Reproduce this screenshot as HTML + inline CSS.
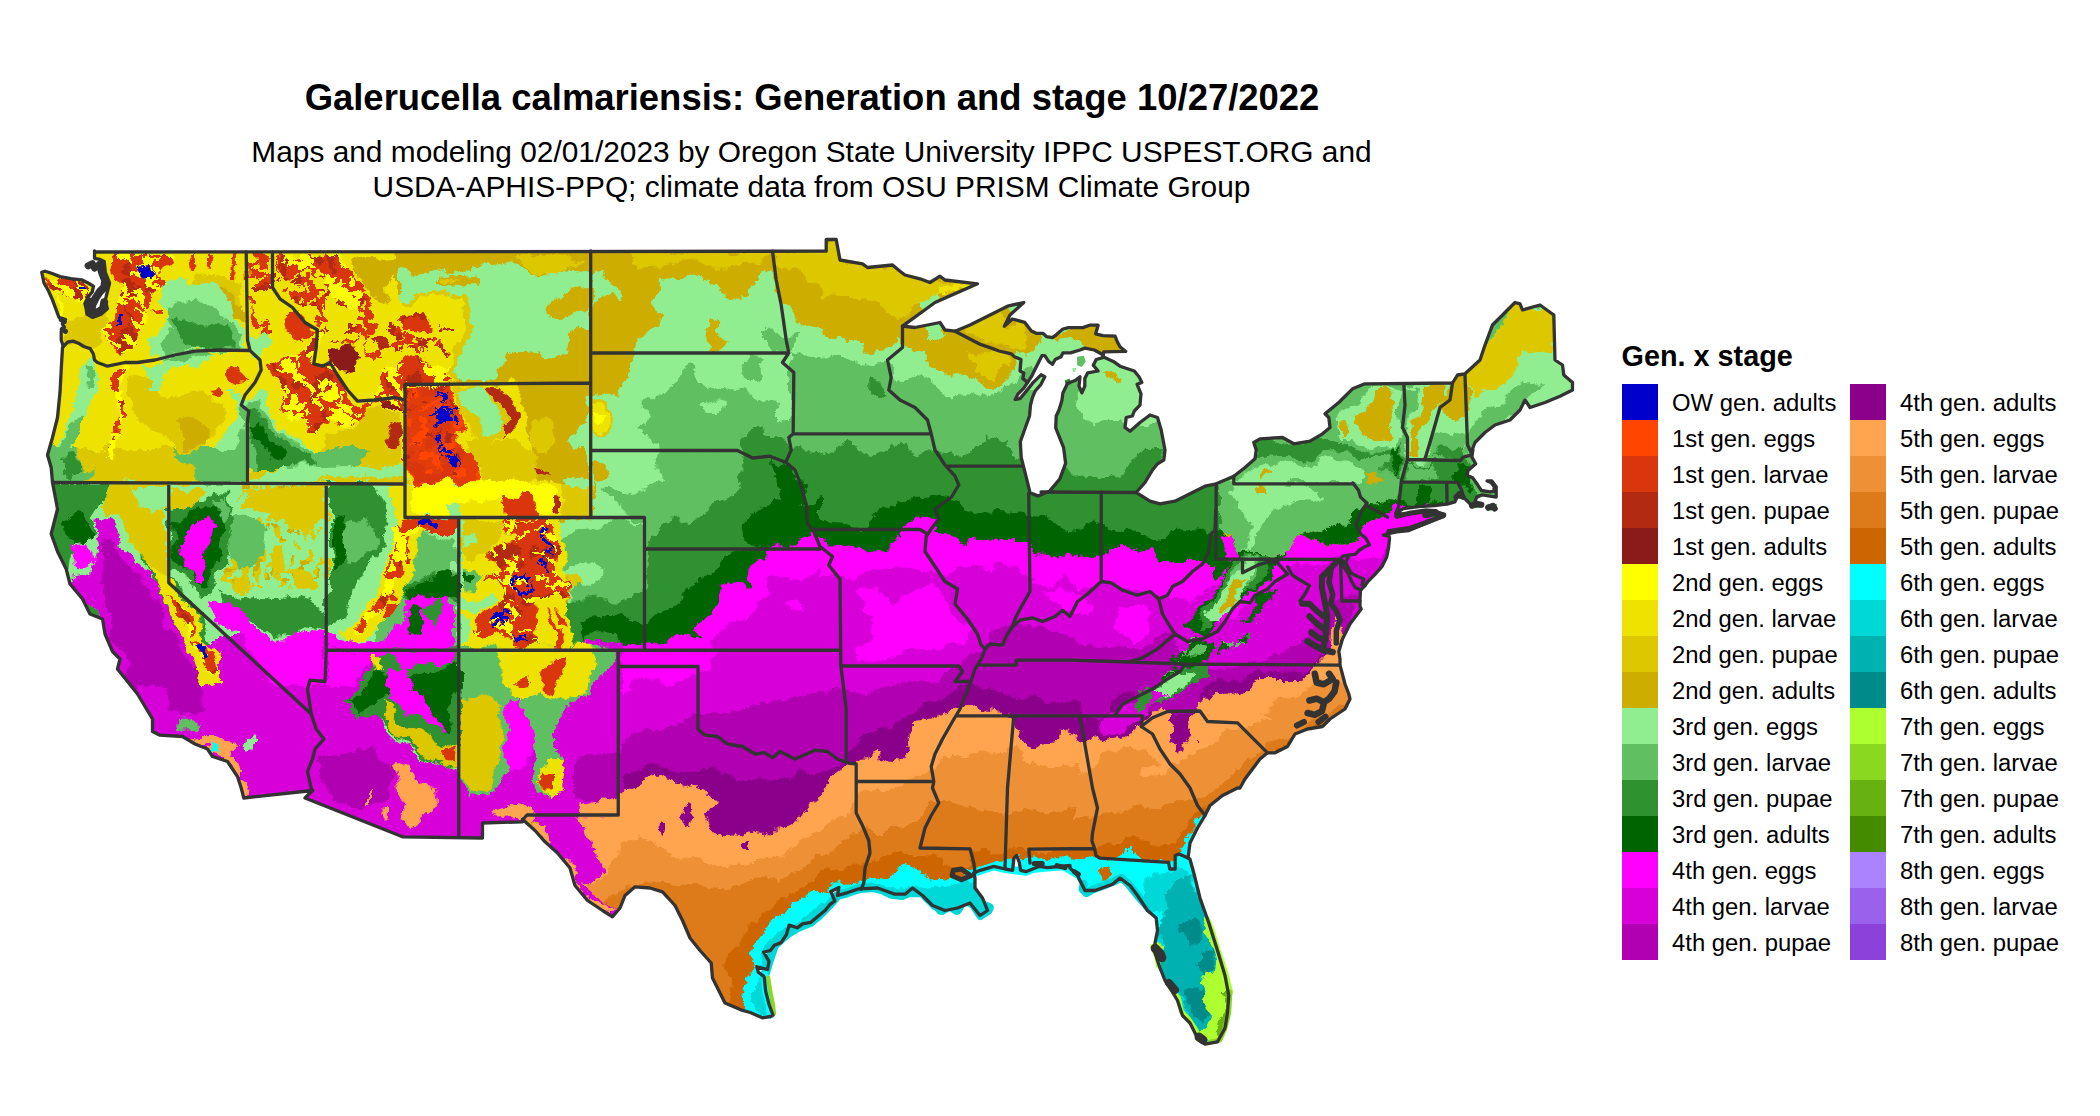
<!DOCTYPE html>
<html><head><meta charset="utf-8"><title>Galerucella calmariensis: Generation and stage</title>
<style>
html,body{margin:0;padding:0;background:#fff;}
body{width:2100px;height:1116px;position:relative;overflow:hidden;font-family:"Liberation Sans",sans-serif;color:#000;}
#title{position:absolute;left:0;width:1624px;top:77px;text-align:center;font-weight:bold;font-size:36.45px;line-height:42px;white-space:nowrap;}
#sub{position:absolute;left:0;width:1623px;top:134px;text-align:center;font-size:29.87px;line-height:35px;white-space:nowrap;}
#legt{position:absolute;left:1621.5px;top:339.5px;font-weight:bold;font-size:28.8px;line-height:32px;white-space:nowrap;}
.col{position:absolute;top:384px;}
.row{height:36px;display:flex;align-items:center;white-space:nowrap;font-size:23.85px;}
.lb{position:relative;top:1px;}
.sw{width:36px;height:36px;display:inline-block;margin-right:14px;flex:none;}
#map{position:absolute;left:0;top:0;}
</style></head><body>
<div id="title">Galerucella calmariensis: Generation and stage 10/27/2022</div>
<div id="sub">Maps and modeling 02/01/2023 by Oregon State University IPPC USPEST.ORG and<br>USDA-APHIS-PPQ; climate data from OSU PRISM Climate Group</div>
<div id="legt">Gen. x stage</div>

<div class="col" style="left:1622px">
<div class="row"><span class="sw" style="background:#0000CD"></span><span class="lb">OW gen. adults</span></div>
<div class="row"><span class="sw" style="background:#FF4500"></span><span class="lb">1st gen. eggs</span></div>
<div class="row"><span class="sw" style="background:#D9360E"></span><span class="lb">1st gen. larvae</span></div>
<div class="row"><span class="sw" style="background:#B22A12"></span><span class="lb">1st gen. pupae</span></div>
<div class="row"><span class="sw" style="background:#8B1A1A"></span><span class="lb">1st gen. adults</span></div>
<div class="row"><span class="sw" style="background:#FFFF00"></span><span class="lb">2nd gen. eggs</span></div>
<div class="row"><span class="sw" style="background:#EEE300"></span><span class="lb">2nd gen. larvae</span></div>
<div class="row"><span class="sw" style="background:#DDC800"></span><span class="lb">2nd gen. pupae</span></div>
<div class="row"><span class="sw" style="background:#CDAD00"></span><span class="lb">2nd gen. adults</span></div>
<div class="row"><span class="sw" style="background:#90EE90"></span><span class="lb">3rd gen. eggs</span></div>
<div class="row"><span class="sw" style="background:#60BF60"></span><span class="lb">3rd gen. larvae</span></div>
<div class="row"><span class="sw" style="background:#309130"></span><span class="lb">3rd gen. pupae</span></div>
<div class="row"><span class="sw" style="background:#006400"></span><span class="lb">3rd gen. adults</span></div>
<div class="row"><span class="sw" style="background:#FF00FF"></span><span class="lb">4th gen. eggs</span></div>
<div class="row"><span class="sw" style="background:#D800D8"></span><span class="lb">4th gen. larvae</span></div>
<div class="row"><span class="sw" style="background:#B100B1"></span><span class="lb">4th gen. pupae</span></div>
</div>
<div class="col" style="left:1850px">
<div class="row"><span class="sw" style="background:#8B008B"></span><span class="lb">4th gen. adults</span></div>
<div class="row"><span class="sw" style="background:#FFA54F"></span><span class="lb">5th gen. eggs</span></div>
<div class="row"><span class="sw" style="background:#EE9035"></span><span class="lb">5th gen. larvae</span></div>
<div class="row"><span class="sw" style="background:#DD7B1A"></span><span class="lb">5th gen. pupae</span></div>
<div class="row"><span class="sw" style="background:#CD6600"></span><span class="lb">5th gen. adults</span></div>
<div class="row"><span class="sw" style="background:#00FFFF"></span><span class="lb">6th gen. eggs</span></div>
<div class="row"><span class="sw" style="background:#00D8D8"></span><span class="lb">6th gen. larvae</span></div>
<div class="row"><span class="sw" style="background:#00B1B1"></span><span class="lb">6th gen. pupae</span></div>
<div class="row"><span class="sw" style="background:#008B8B"></span><span class="lb">6th gen. adults</span></div>
<div class="row"><span class="sw" style="background:#ADFF2F"></span><span class="lb">7th gen. eggs</span></div>
<div class="row"><span class="sw" style="background:#8AD81F"></span><span class="lb">7th gen. larvae</span></div>
<div class="row"><span class="sw" style="background:#67B110"></span><span class="lb">7th gen. pupae</span></div>
<div class="row"><span class="sw" style="background:#458B00"></span><span class="lb">7th gen. adults</span></div>
<div class="row"><span class="sw" style="background:#AB82FF"></span><span class="lb">8th gen. eggs</span></div>
<div class="row"><span class="sw" style="background:#9A62EC"></span><span class="lb">8th gen. larvae</span></div>
<div class="row"><span class="sw" style="background:#8A42DA"></span><span class="lb">8th gen. pupae</span></div>
</div>
<svg id="map" width="2100" height="1116" viewBox="0 0 2100 1116">
<defs><clipPath id="us"><path d="M95 252 L826.2 251.2 L826.2 239.5 L836.2 239.5 L840 260 L862.5 263.8 L867.5 267.5 L892.5 265 L900 271.2 L905 275 L920 278.8 L930 282.5 L940 276.2 L945 280 L977.5 283.8 L935 302.5 L902.5 326.2 L915 327.5 L940 322.5 L945 330 L955 331.2 L970 325 L990 315 L1007.5 306.2 L1023.8 302.5 L1010 315 L1004.3 326.2 L1012.4 319 L1024.8 322.4 L1031.4 331 L1036.2 333.3 L1042.9 333.3 L1046.7 336.7 L1052.4 337.6 L1056.2 334.8 L1062.9 329 L1068.6 327.6 L1082.9 327.6 L1089.5 325.2 L1098.1 325.2 L1095.7 333.8 L1102.9 335.7 L1115.2 336.2 L1117.1 341.4 L1120 346.7 L1125.7 351.4 L1103.8 351.9 L1102.9 356.7 L1113.3 361.4 L1120 366.2 L1134.3 371 L1139 376.7 L1141.9 382.4 L1137.1 384.3 L1141 393.8 L1140 405.2 L1134.3 411 L1132.4 416 L1126.2 417.5 L1125 427.5 L1130 431.2 L1140 422.5 L1150 415 L1157.5 417.5 L1161.2 430 L1165 450 L1163.8 460 L1157.5 463.8 L1152.5 470 L1145 482.5 L1136.2 492.5 L1150 501.2 L1160 503.8 L1175 501.2 L1192.5 492.5 L1205 486.2 L1216.2 483.8 L1233.8 476.2 L1245 467.5 L1255 458.8 L1256.2 450 L1253.8 442.5 L1260 438.8 L1282.5 437.5 L1293.8 443.8 L1310 441.2 L1322.5 433.8 L1330 427.5 L1328.8 417.5 L1325 413.8 L1338.8 402.5 L1352.5 388.8 L1365 383.8 L1452.5 383 L1457.5 375 L1465 373.8 L1480 360 L1485 345 L1492.5 325 L1515 302.5 L1520 303.8 L1522.5 310 L1540 305 L1553.8 315 L1555 360 L1562.5 365 L1563.8 375 L1572.5 382.5 L1572.5 390 L1560 396.2 L1545 402.5 L1530 407.5 L1525 400 L1520 410 L1510 420 L1495 425 L1485 432.5 L1475 442.5 L1471.2 452.5 L1472.9 449.5 L1471.9 457.1 L1475.7 463.8 L1468.1 470.5 L1467.1 475.2 L1472.9 478.1 L1477.6 484.8 L1481.4 490.5 L1490 491.9 L1493.8 491.4 L1494.3 486.7 L1491 482.4 L1487.1 481 L1491.9 481 L1496.2 486.7 L1496.2 497.1 L1482.4 494.8 L1476.7 497.1 L1474.8 501.9 L1471.9 505.7 L1465.2 499 L1457.6 496.2 L1454.8 501.9 L1448.1 503.8 L1434.8 505.7 L1418.6 506.7 L1403.3 508.6 L1395.7 513.3 L1406.2 514.3 L1425.2 510.5 L1435.7 511 L1444.3 515.2 L1425.2 523.8 L1409 530.5 L1396.7 531.9 L1387.1 533.8 L1383.3 535.2 L1389 536.2 L1389.5 538.1 L1388.6 547.6 L1386.7 557.1 L1381.9 566.7 L1374.3 575.2 L1367.6 581.9 L1364.8 585.7 L1360.5 590.5 L1360 599 L1360 606 L1361.2 609 L1350 624 L1342.5 639 L1338.8 651.5 L1340 659 L1340 665.2 L1345 684 L1348.8 694 L1350 699 L1345 709 L1330 719 L1322.5 726.5 L1307.5 729 L1295 734 L1287.5 746.5 L1275 752.8 L1267.5 752.8 L1260 759 L1252.5 769 L1245 779 L1240 788 L1237.5 788 L1222.5 795.5 L1210 805.5 L1205 815.5 L1197.5 828 L1190 843 L1188 858 L1190 859.2 L1193.8 873 L1200 898 L1208.8 923 L1217.5 950.5 L1225 975.5 L1228.8 995.5 L1227.5 1013 L1225 1028 L1217.5 1041.8 L1205 1044.2 L1197.5 1038 L1190 1023 L1182.5 1015.5 L1177.5 1000.5 L1170 988 L1165 980.5 L1160 968 L1155 953 L1155 943 L1157.5 930.5 L1156.2 918 L1147.5 910.5 L1137.5 895.5 L1130 885.5 L1120 878 L1112.5 884.2 L1095 890.5 L1085 890.5 L1077.5 875.5 L1070 868 L1070 865.5 L1047.5 867.6 L1039.5 866.3 L1032.7 869 L1026 871.7 L1020.6 870.3 L1019.3 862.3 L1016.6 855.5 L1013.9 858.2 L1012.6 870.3 L1005.2 869 L993.8 866.3 L980.3 870.3 L973.6 873 L975 878 L975 888 L982.5 898 L987.5 910.5 L980 915.5 L970 903 L957.5 908 L945 910.5 L932.5 905.5 L922.5 895.5 L912.5 888 L905 894.2 L895 894.2 L877.5 888 L859 888.8 L846.9 892.8 L837.5 895.5 L838.9 887.5 L830.8 891.5 L834.8 900.9 L829.5 904.9 L825.4 910.3 L818.7 915.7 L810.6 922.4 L802.6 923.8 L797.2 927.8 L789.1 925.1 L786.5 934.5 L781.1 942.6 L774.4 945.3 L770.3 950.6 L763.6 952 L769 961.4 L767.6 969.5 L756.9 966.8 L758.2 972.2 L763.6 976.2 L764.3 977.5 L765.6 991 L769 1004.4 L773 1015.2 L770.3 1016.5 L762.3 1017.8 L750.2 1012.5 L740.8 1009.8 L725 1003 L720 993 L712.5 978 L711.2 963 L700 950.5 L690 938 L682.5 920.5 L675 905.5 L662.5 891.8 L650 888 L635 886.8 L625 895.5 L620 908 L612.5 916.8 L602.5 910.5 L587.5 900.5 L575 885.5 L570 868 L557.5 853 L545 841.8 L535 830.5 L522.5 819.2 L522.5 821.8 L482.5 823 L482.5 838 L402.5 836.8 L305 798 L312.5 790.5 L243.8 798 L241.2 788 L237.5 776.5 L227.5 761.5 L212.5 756.5 L207.5 749 L195 744 L182.5 736.5 L160 735.2 L152.5 731.5 L152.5 719 L145 706.5 L137.5 694 L127.5 681.5 L117.5 669 L120 659 L112.5 651.5 L105 634 L102.5 619 L90 614 L82.5 599 L70 584 L66.2 569 L57.5 551.5 L51.2 534 L57.5 509 L52.5 482.5 L51.2 467.5 L47.5 455 L52.5 437.5 L57.5 417.5 L60 392.5 L61.2 370 L62.5 347.5 L63.3 346.5 L61.2 340 L61.2 331.4 L64.4 327.1 L62.3 323.9 L65.5 319.6 L59 317.4 L55.8 308.8 L52.6 300.2 L48.3 290.5 L44 283 L41.8 272.3 L45.1 271.2 L51.5 273.3 L60.1 276.6 L70.9 278.7 L81.6 279.8 L88.1 283 L93.4 286.2 L92.4 291.6 L88.1 297 L84.8 303.4 L85.9 307.7 L87 314.2 L92.4 317.4 L101 314.2 L107.4 308.8 L105.3 300.2 L107.4 291.6 L109.6 283 L105.3 272.3 L104.2 261.5 L99.9 259.4 L94.5 258.3 L94.5 250.8Z M1470 502.9 L1482.4 501.9 L1483.3 507.6 L1471 508.6Z M1486.2 504.8 L1496.7 503.8 L1496.7 510.5 L1487.1 510.5Z"/></clipPath><pattern id="R80" patternUnits="userSpaceOnUse" width="48" height="48">
<rect width="48" height="48" fill="#FFFF00"/>
<path fill="#D9360E" d="M6 0h2v2h-2zM10 0h4v2h-4zM16 0h8v2h-8zM4 2h18v2h-18zM4 4h10v2h-10zM18 4h4v2h-4zM36 4h2v2h-2zM4 6h10v2h-10zM34 6h8v2h-8zM4 8h14v2h-14zM38 8h6v2h-6zM4 10h14v2h-14zM38 10h6v2h-6zM6 12h10v2h-10zM38 12h6v2h-6zM38 14h4v2h-4zM6 38h4v2h-4zM6 40h8v2h-8zM6 42h12v2h-12zM20 42h4v2h-4zM6 44h6v2h-6zM14 44h12v2h-12zM6 46h2v2h-2zM16 46h10v2h-10z"/>
<path fill="#D9360E" d="M0 0h6v2h-6zM24 0h6v2h-6zM34 0h14v2h-14zM0 2h4v2h-4zM22 2h2v2h-2zM28 2h16v2h-16zM2 4h2v2h-2zM32 4h4v2h-4zM0 6h4v2h-4zM46 6h2v2h-2zM0 8h4v2h-4zM44 8h4v2h-4zM0 10h4v2h-4zM18 10h10v2h-10zM44 10h4v2h-4zM0 12h6v2h-6zM16 12h20v2h-20zM44 12h4v2h-4zM4 14h18v2h-18zM24 14h14v2h-14zM42 14h6v2h-6zM8 16h8v2h-8zM34 16h12v2h-12zM36 18h10v2h-10zM36 20h10v2h-10zM36 22h10v2h-10zM34 24h12v2h-12zM8 26h4v2h-4zM24 26h6v2h-6zM34 26h14v2h-14zM4 28h8v2h-8zM22 28h10v2h-10zM34 28h14v2h-14zM0 30h12v2h-12zM26 30h12v2h-12zM40 30h8v2h-8zM0 32h12v2h-12zM28 32h20v2h-20zM0 34h12v2h-12zM22 34h4v2h-4zM40 34h8v2h-8zM0 36h14v2h-14zM20 36h8v2h-8zM44 36h4v2h-4zM0 38h6v2h-6zM10 38h18v2h-18zM42 38h6v2h-6zM0 40h6v2h-6zM14 40h8v2h-8zM38 40h10v2h-10zM0 42h6v2h-6zM18 42h2v2h-2zM34 42h2v2h-2zM38 42h10v2h-10zM0 44h6v2h-6zM26 44h2v2h-2zM34 44h14v2h-14zM0 46h6v2h-6zM26 46h4v2h-4zM34 46h14v2h-14z"/>
<path fill="#B22A12" d="M0 14h4v2h-4zM0 16h8v2h-8zM16 16h4v2h-4zM24 16h10v2h-10zM46 16h2v2h-2zM0 18h2v2h-2zM6 18h16v2h-16zM24 18h12v2h-12zM46 18h2v2h-2zM0 20h4v2h-4zM14 20h22v2h-22zM46 20h2v2h-2zM0 22h6v2h-6zM16 22h20v2h-20zM46 22h2v2h-2zM0 24h14v2h-14zM16 24h12v2h-12zM46 24h2v2h-2zM0 26h8v2h-8zM12 26h12v2h-12zM0 28h4v2h-4zM12 28h10v2h-10zM12 30h8v2h-8zM12 32h8v2h-8zM12 34h10v2h-10zM34 34h6v2h-6zM14 36h6v2h-6zM34 36h10v2h-10zM36 38h6v2h-6z"/>
</pattern>
<pattern id="R65" patternUnits="userSpaceOnUse" width="48" height="48">
<rect width="48" height="48" fill="#FFFF00"/>
<path fill="#D9360E" d="M10 8h6v2h-6zM8 10h8v2h-8zM8 12h8v2h-8zM8 14h10v2h-10zM42 14h2v2h-2zM46 14h2v2h-2zM0 16h2v2h-2zM8 16h10v2h-10zM38 16h8v2h-8zM38 18h8v2h-8zM14 20h4v2h-4zM38 20h10v2h-10zM0 22h2v2h-2zM40 22h8v2h-8zM4 24h2v2h-2zM24 24h4v2h-4zM40 24h2v2h-2zM22 26h6v2h-6zM42 26h2v2h-2zM24 28h4v2h-4zM42 28h2v2h-2zM24 30h4v2h-4zM42 30h4v2h-4zM12 32h2v2h-2zM10 34h6v2h-6zM14 36h4v2h-4zM16 38h2v2h-2zM10 40h10v2h-10zM12 42h6v2h-6zM16 44h2v2h-2z"/>
<path fill="#D9360E" d="M0 0h2v2h-2zM16 0h8v2h-8zM44 0h4v2h-4zM0 2h2v2h-2zM18 2h4v2h-4zM44 2h4v2h-4zM0 4h4v2h-4zM8 4h4v2h-4zM46 4h2v2h-2zM0 6h14v2h-14zM46 6h2v2h-2zM0 8h10v2h-10zM0 10h8v2h-8zM16 10h2v2h-2zM34 10h8v2h-8zM0 12h4v2h-4zM16 12h4v2h-4zM0 14h4v2h-4zM18 14h2v2h-2zM32 14h4v2h-4zM2 16h2v2h-2zM18 16h2v2h-2zM32 16h6v2h-6zM18 18h6v2h-6zM34 18h4v2h-4zM18 20h12v2h-12zM36 20h2v2h-2zM14 22h20v2h-20zM36 22h4v2h-4zM6 24h4v2h-4zM14 24h10v2h-10zM28 24h6v2h-6zM36 24h4v2h-4zM6 26h16v2h-16zM28 26h6v2h-6zM38 26h4v2h-4zM12 28h2v2h-2zM18 28h6v2h-6zM28 28h6v2h-6zM38 28h4v2h-4zM12 30h2v2h-2zM18 30h6v2h-6zM28 30h6v2h-6zM40 30h2v2h-2zM14 32h20v2h-20zM16 34h20v2h-20zM38 34h2v2h-2zM18 36h26v2h-26zM0 38h4v2h-4zM18 38h16v2h-16zM38 38h10v2h-10zM0 40h4v2h-4zM20 40h8v2h-8zM40 40h8v2h-8zM0 42h2v2h-2zM10 42h2v2h-2zM20 42h6v2h-6zM42 42h6v2h-6zM0 44h2v2h-2zM12 44h4v2h-4zM18 44h8v2h-8zM42 44h6v2h-6zM0 46h2v2h-2zM14 46h10v2h-10zM42 46h6v2h-6z"/>
<path fill="#B22A12" d="M2 0h8v2h-8zM24 0h4v2h-4zM34 0h10v2h-10zM2 2h10v2h-10zM22 2h4v2h-4zM34 2h4v2h-4zM4 4h4v2h-4zM20 4h6v2h-6zM22 6h6v2h-6zM36 6h2v2h-2zM22 8h8v2h-8zM34 8h8v2h-8zM22 10h8v2h-8zM22 12h8v2h-8zM20 14h4v2h-4zM20 16h2v2h-2zM34 24h2v2h-2zM34 26h4v2h-4zM34 28h4v2h-4zM34 30h6v2h-6zM34 32h4v2h-4zM36 34h2v2h-2zM34 38h4v2h-4zM28 40h12v2h-12zM2 42h2v2h-2zM26 42h16v2h-16zM2 44h2v2h-2zM26 44h2v2h-2zM30 44h12v2h-12zM2 46h6v2h-6zM24 46h4v2h-4zM32 46h10v2h-10z"/>
</pattern>
<pattern id="R50" patternUnits="userSpaceOnUse" width="48" height="48">
<rect width="48" height="48" fill="#FFFF00"/>
<path fill="#D9360E" d="M8 14h2v2h-2zM10 16h2v2h-2zM10 18h4v2h-4zM4 26h6v2h-6zM4 28h6v2h-6zM26 28h12v2h-12zM2 30h8v2h-8zM28 30h10v2h-10zM2 32h6v2h-6zM30 32h10v2h-10zM4 34h6v2h-6zM36 34h4v2h-4zM4 36h6v2h-6zM22 36h4v2h-4zM36 36h4v2h-4zM22 38h8v2h-8zM38 38h2v2h-2zM22 40h4v2h-4zM22 42h4v2h-4zM22 44h4v2h-4zM24 46h4v2h-4z"/>
<path fill="#D9360E" d="M10 0h18v2h-18zM40 0h4v2h-4zM14 2h12v2h-12zM38 6h2v2h-2zM16 8h2v2h-2zM32 8h4v2h-4zM16 10h4v2h-4zM32 10h4v2h-4zM32 12h6v2h-6zM34 14h6v2h-6zM6 16h4v2h-4zM22 16h2v2h-2zM34 16h6v2h-6zM22 18h2v2h-2zM36 18h4v2h-4zM2 20h2v2h-2zM36 20h4v2h-4zM0 22h4v2h-4zM34 22h6v2h-6zM0 24h10v2h-10zM24 24h16v2h-16zM0 26h4v2h-4zM24 26h16v2h-16zM46 26h2v2h-2zM0 28h4v2h-4zM38 28h4v2h-4zM46 28h2v2h-2zM0 30h2v2h-2zM10 30h6v2h-6zM20 30h2v2h-2zM38 30h4v2h-4zM46 30h2v2h-2zM0 32h2v2h-2zM10 32h6v2h-6zM20 32h2v2h-2zM40 32h4v2h-4zM46 32h2v2h-2zM0 34h4v2h-4zM12 34h4v2h-4zM20 34h4v2h-4zM40 34h4v2h-4zM46 34h2v2h-2zM0 36h4v2h-4zM14 36h2v2h-2zM18 36h4v2h-4zM40 36h8v2h-8zM0 38h10v2h-10zM14 38h8v2h-8zM42 38h6v2h-6zM0 40h8v2h-8zM14 40h8v2h-8zM46 40h2v2h-2zM0 42h2v2h-2zM8 42h2v2h-2zM12 42h10v2h-10zM6 44h16v2h-16zM8 46h16v2h-16zM40 46h6v2h-6z"/>
<path fill="#B22A12" d="M40 6h2v2h-2zM30 8h2v2h-2zM40 8h6v2h-6zM28 10h4v2h-4zM42 10h6v2h-6zM28 12h4v2h-4zM44 12h2v2h-2zM28 14h6v2h-6zM26 16h8v2h-8zM40 16h4v2h-4zM0 18h4v2h-4zM24 18h12v2h-12zM40 18h4v2h-4zM0 20h2v2h-2zM24 20h12v2h-12zM40 20h8v2h-8zM24 22h10v2h-10zM40 22h8v2h-8zM40 24h8v2h-8zM40 26h6v2h-6zM42 28h4v2h-4zM16 30h4v2h-4zM42 30h4v2h-4zM16 32h4v2h-4zM44 32h2v2h-2zM16 34h4v2h-4zM44 34h2v2h-2zM16 36h2v2h-2z"/>
</pattern>
<pattern id="R35" patternUnits="userSpaceOnUse" width="48" height="48">
<rect width="48" height="48" fill="#EEE300"/>
<path fill="#D9360E" d="M0 0h2v2h-2zM22 0h2v2h-2zM22 2h6v2h-6zM6 4h2v2h-2zM18 4h12v2h-12zM18 6h10v2h-10zM18 8h10v2h-10zM20 10h10v2h-10zM32 12h2v2h-2zM30 26h6v2h-6zM28 28h8v2h-8zM20 40h2v2h-2zM20 42h2v2h-2zM20 44h4v2h-4zM20 46h4v2h-4z"/>
<path fill="#D9360E" d="M24 0h6v2h-6zM46 0h2v2h-2zM0 2h2v2h-2zM16 2h2v2h-2zM28 2h4v2h-4zM46 2h2v2h-2zM8 4h10v2h-10zM4 6h14v2h-14zM4 8h14v2h-14zM38 8h2v2h-2zM4 10h16v2h-16zM36 10h4v2h-4zM10 12h2v2h-2zM16 12h2v2h-2zM28 12h4v2h-4zM34 12h6v2h-6zM14 14h4v2h-4zM22 14h4v2h-4zM28 14h12v2h-12zM30 16h10v2h-10zM32 18h4v2h-4zM38 18h2v2h-2zM32 20h4v2h-4zM32 22h4v2h-4zM32 24h4v2h-4zM26 26h4v2h-4zM26 28h2v2h-2zM18 30h10v2h-10zM20 32h8v2h-8zM22 34h6v2h-6zM34 34h2v2h-2zM24 36h4v2h-4zM16 38h4v2h-4zM24 38h4v2h-4zM14 40h6v2h-6zM24 40h6v2h-6zM12 42h8v2h-8zM12 44h8v2h-8zM24 44h2v2h-2zM14 46h2v2h-2zM24 46h4v2h-4z"/>
<path fill="#B22A12" d="M30 0h2v2h-2zM32 2h4v2h-4zM42 2h4v2h-4zM38 4h8v2h-8zM38 6h6v2h-6zM40 8h2v2h-2zM6 12h4v2h-4zM6 14h4v2h-4zM8 16h10v2h-10zM24 16h6v2h-6zM12 18h4v2h-4zM30 18h2v2h-2zM40 18h2v2h-2zM8 32h4v2h-4zM8 34h6v2h-6zM10 36h6v2h-6zM34 36h2v2h-2zM6 38h10v2h-10zM34 38h4v2h-4zM6 40h8v2h-8zM34 40h2v2h-2zM10 42h2v2h-2z"/>
</pattern>
<pattern id="R20" patternUnits="userSpaceOnUse" width="48" height="48">
<rect width="48" height="48" fill="#EEE300"/>
<path fill="#D9360E" d="M10 12h2v2h-2zM10 14h2v2h-2zM10 26h4v2h-4zM8 28h8v2h-8zM8 30h10v2h-10zM8 32h10v2h-10zM20 32h2v2h-2zM12 34h8v2h-8z"/>
<path fill="#D9360E" d="M22 0h2v2h-2zM12 14h2v2h-2zM8 16h8v2h-8zM8 18h8v2h-8zM8 20h4v2h-4zM8 22h2v2h-2zM8 24h4v2h-4zM6 26h4v2h-4zM6 28h2v2h-2zM6 30h2v2h-2zM26 30h2v2h-2zM6 32h2v2h-2zM22 32h6v2h-6zM4 34h4v2h-4zM20 34h8v2h-8zM22 36h6v2h-6zM18 38h10v2h-10zM16 40h14v2h-14zM16 42h16v2h-16zM16 44h10v2h-10zM16 46h10v2h-10z"/>
<path fill="#B22A12" d="M12 0h10v2h-10zM24 0h2v2h-2zM12 2h14v2h-14zM16 4h8v2h-8zM6 22h2v2h-2zM6 24h2v2h-2zM4 28h2v2h-2zM2 30h4v2h-4zM46 30h2v2h-2zM2 32h4v2h-4zM28 32h2v2h-2zM28 34h2v2h-2zM32 42h4v2h-4z"/>
</pattern>
<pattern id="Y90" patternUnits="userSpaceOnUse" width="48" height="48">
<rect width="48" height="48" fill="#B22A12"/>
<path fill="#FF4500" d="M34 0h6v2h-6zM32 2h6v2h-6zM32 4h6v2h-6zM30 6h2v2h-2zM36 6h2v2h-2zM18 8h10v2h-10zM32 8h2v2h-2zM36 8h2v2h-2zM18 10h10v2h-10zM18 12h8v2h-8zM20 14h2v2h-2zM0 18h8v2h-8zM0 20h8v2h-8zM40 20h8v2h-8zM0 22h8v2h-8zM38 22h10v2h-10zM0 24h10v2h-10zM38 24h10v2h-10zM0 26h10v2h-10zM36 26h6v2h-6zM46 26h2v2h-2zM0 28h8v2h-8zM2 30h6v2h-6zM24 34h2v2h-2zM22 36h6v2h-6zM38 36h4v2h-4zM24 38h4v2h-4zM36 38h8v2h-8zM22 40h6v2h-6zM36 40h8v2h-8zM22 42h4v2h-4zM36 42h6v2h-6zM34 44h8v2h-8zM34 46h6v2h-6z"/>
<path fill="#E23C0A" d="M18 0h16v2h-16zM40 0h4v2h-4zM16 2h16v2h-16zM38 2h4v2h-4zM8 4h10v2h-10zM26 4h6v2h-6zM38 4h4v2h-4zM6 6h14v2h-14zM26 6h4v2h-4zM38 6h4v2h-4zM6 8h12v2h-12zM28 8h4v2h-4zM38 8h4v2h-4zM4 10h14v2h-14zM28 10h14v2h-14zM2 12h16v2h-16zM26 12h18v2h-18zM0 14h20v2h-20zM24 14h24v2h-24zM0 16h14v2h-14zM18 16h10v2h-10zM32 16h8v2h-8zM42 16h6v2h-6zM8 18h4v2h-4zM20 18h6v2h-6zM34 18h14v2h-14zM10 20h4v2h-4zM34 20h6v2h-6zM10 22h4v2h-4zM32 22h6v2h-6zM10 24h4v2h-4zM32 24h6v2h-6zM10 26h4v2h-4zM30 26h6v2h-6zM42 26h4v2h-4zM8 28h4v2h-4zM26 28h22v2h-22zM0 30h2v2h-2zM8 30h4v2h-4zM20 30h28v2h-28zM0 32h10v2h-10zM20 32h28v2h-28zM0 34h8v2h-8zM18 34h6v2h-6zM26 34h22v2h-22zM0 36h6v2h-6zM18 36h2v2h-2zM28 36h10v2h-10zM42 36h6v2h-6zM0 38h6v2h-6zM18 38h4v2h-4zM28 38h8v2h-8zM44 38h4v2h-4zM0 40h6v2h-6zM18 40h4v2h-4zM28 40h8v2h-8zM44 40h4v2h-4zM0 42h6v2h-6zM18 42h4v2h-4zM26 42h10v2h-10zM42 42h6v2h-6zM0 44h2v2h-2zM18 44h16v2h-16zM42 44h6v2h-6zM18 46h16v2h-16z"/>
<path fill="#D9360E" d="M2 0h6v2h-6zM12 0h6v2h-6zM44 0h4v2h-4zM0 2h4v2h-4zM10 2h6v2h-6zM42 2h6v2h-6zM0 4h4v2h-4zM42 4h6v2h-6zM0 6h6v2h-6zM42 6h6v2h-6zM0 8h6v2h-6zM42 8h6v2h-6zM0 10h4v2h-4zM42 10h6v2h-6zM0 12h2v2h-2zM44 12h4v2h-4zM28 16h4v2h-4zM26 18h8v2h-8zM20 20h14v2h-14zM14 22h4v2h-4zM22 22h2v2h-2zM28 22h4v2h-4zM14 24h8v2h-8zM28 24h4v2h-4zM14 26h12v2h-12zM28 26h2v2h-2zM12 28h14v2h-14zM12 30h8v2h-8zM10 32h10v2h-10zM8 34h10v2h-10zM6 36h12v2h-12zM6 38h12v2h-12zM6 40h12v2h-12zM6 42h12v2h-12zM2 44h16v2h-16zM2 46h16v2h-16z"/>
</pattern>
<pattern id="G50" patternUnits="userSpaceOnUse" width="48" height="48">
<rect width="48" height="48" fill="#90EE90"/>
<path fill="#DDC800" d="M14 0h2v2h-2zM36 0h2v2h-2zM22 2h4v2h-4zM32 2h4v2h-4zM22 4h4v2h-4zM30 4h4v2h-4zM24 6h2v2h-2zM30 6h2v2h-2zM28 8h2v2h-2zM14 14h2v2h-2zM44 14h2v2h-2zM10 16h8v2h-8zM28 28h4v2h-4zM32 30h6v2h-6zM30 32h12v2h-12zM28 34h16v2h-16zM32 36h14v2h-14zM36 38h10v2h-10zM36 40h4v2h-4zM42 40h4v2h-4zM36 42h2v2h-2zM12 44h2v2h-2zM12 46h4v2h-4z"/>
<path fill="#DDC800" d="M2 0h2v2h-2zM16 0h10v2h-10zM38 0h2v2h-2zM4 2h6v2h-6zM14 2h8v2h-8zM36 2h6v2h-6zM6 4h2v2h-2zM12 4h6v2h-6zM20 4h2v2h-2zM34 4h6v2h-6zM12 6h6v2h-6zM20 6h4v2h-4zM32 6h8v2h-8zM12 8h6v2h-6zM22 8h4v2h-4zM30 8h10v2h-10zM14 10h2v2h-2zM22 10h2v2h-2zM28 10h12v2h-12zM6 12h4v2h-4zM12 12h6v2h-6zM46 12h2v2h-2zM0 14h14v2h-14zM16 14h4v2h-4zM46 14h2v2h-2zM0 16h10v2h-10zM18 16h2v2h-2zM0 18h4v2h-4zM8 18h12v2h-12zM30 18h2v2h-2zM12 20h8v2h-8zM22 22h4v2h-4zM42 22h4v2h-4zM22 24h8v2h-8zM34 24h12v2h-12zM24 26h14v2h-14zM42 26h2v2h-2zM32 28h6v2h-6zM42 28h2v2h-2zM38 30h2v2h-2zM42 30h4v2h-4zM42 32h6v2h-6zM0 34h2v2h-2zM44 34h4v2h-4zM0 36h4v2h-4zM6 36h6v2h-6zM26 36h6v2h-6zM2 38h10v2h-10zM20 38h2v2h-2zM28 38h2v2h-2zM46 38h2v2h-2zM2 40h10v2h-10zM46 40h2v2h-2zM2 42h6v2h-6zM12 42h2v2h-2zM18 42h2v2h-2zM14 44h8v2h-8zM16 46h10v2h-10z"/>
<path fill="#CDAD00" d="M0 0h2v2h-2zM2 2h2v2h-2zM4 4h2v2h-2zM40 4h4v2h-4zM0 6h2v2h-2zM4 6h4v2h-4zM40 6h8v2h-8zM0 8h8v2h-8zM40 8h8v2h-8zM0 10h8v2h-8zM44 10h4v2h-4zM4 12h2v2h-2zM26 18h4v2h-4zM24 20h8v2h-8zM26 22h8v2h-8zM30 24h4v2h-4zM46 24h2v2h-2zM0 26h2v2h-2zM44 26h4v2h-4zM0 28h6v2h-6zM44 28h4v2h-4zM0 30h6v2h-6zM46 30h2v2h-2zM0 32h6v2h-6zM2 34h6v2h-6zM4 36h2v2h-2zM22 38h2v2h-2zM26 38h2v2h-2zM18 40h12v2h-12zM20 42h6v2h-6zM22 44h4v2h-4z"/>
</pattern>
<pattern id="G30" patternUnits="userSpaceOnUse" width="48" height="48">
<rect width="48" height="48" fill="#90EE90"/>
<path fill="#DDC800" d="M20 0h2v2h-2zM36 4h4v2h-4zM38 6h2v2h-2zM2 14h2v2h-2zM2 16h4v2h-4zM4 18h4v2h-4zM20 22h2v2h-2zM38 28h4v2h-4zM34 30h6v2h-6zM30 32h10v2h-10zM32 34h8v2h-8zM2 40h2v2h-2zM0 42h6v2h-6zM0 44h6v2h-6zM20 44h2v2h-2zM46 44h2v2h-2zM18 46h4v2h-4z"/>
<path fill="#DDC800" d="M10 0h4v2h-4zM34 0h6v2h-6zM8 2h8v2h-8zM34 2h6v2h-6zM8 4h2v2h-2zM16 4h4v2h-4zM16 6h6v2h-6zM40 6h2v2h-2zM40 8h2v2h-2zM40 10h4v2h-4zM40 12h6v2h-6zM40 14h4v2h-4zM4 20h4v2h-4zM6 22h2v2h-2zM20 24h4v2h-4zM40 24h2v2h-2zM20 26h4v2h-4zM40 26h2v2h-2zM18 28h6v2h-6zM6 30h2v2h-2zM18 30h6v2h-6zM4 32h4v2h-4zM16 32h2v2h-2zM22 32h2v2h-2zM28 32h2v2h-2zM40 32h2v2h-2zM4 34h4v2h-4zM28 34h4v2h-4zM40 34h4v2h-4zM28 36h16v2h-16zM26 38h2v2h-2zM34 38h10v2h-10zM18 40h2v2h-2zM26 40h2v2h-2zM38 40h6v2h-6zM16 42h4v2h-4zM26 42h2v2h-2zM38 42h2v2h-2zM6 44h4v2h-4zM14 44h6v2h-6zM26 44h2v2h-2zM38 44h2v2h-2zM0 46h8v2h-8zM16 46h2v2h-2zM26 46h2v2h-2zM36 46h4v2h-4zM46 46h2v2h-2z"/>
<path fill="#CDAD00" d="M0 0h8v2h-8zM26 0h4v2h-4zM4 2h4v2h-4zM6 4h2v2h-2zM42 6h2v2h-2zM18 8h2v2h-2zM42 8h4v2h-4zM44 10h2v2h-2zM2 28h4v2h-4zM2 30h4v2h-4zM2 32h2v2h-2zM18 32h4v2h-4zM16 34h6v2h-6zM16 36h4v2h-4zM16 38h4v2h-4zM14 40h4v2h-4zM32 40h6v2h-6zM14 42h2v2h-2zM28 42h2v2h-2zM32 42h6v2h-6zM28 44h2v2h-2zM32 44h6v2h-6zM28 46h2v2h-2zM34 46h2v2h-2z"/>
</pattern>
<pattern id="M50" patternUnits="userSpaceOnUse" width="48" height="48">
<path fill="#309130" d="M26 0h8v2h-8zM26 2h8v2h-8zM26 4h8v2h-8zM26 6h10v2h-10zM28 8h8v2h-8zM44 8h4v2h-4zM40 10h8v2h-8zM42 12h6v2h-6zM42 14h4v2h-4zM44 16h2v2h-2zM42 18h4v2h-4zM42 20h2v2h-2zM14 26h2v2h-2zM22 26h2v2h-2zM44 26h4v2h-4zM44 28h4v2h-4zM28 40h6v2h-6zM26 42h10v2h-10zM26 44h8v2h-8zM26 46h8v2h-8z"/>
<path fill="#006400" d="M20 0h6v2h-6zM34 0h4v2h-4zM16 2h10v2h-10zM34 2h4v2h-4zM14 4h12v2h-12zM34 4h6v2h-6zM14 6h12v2h-12zM36 6h6v2h-6zM20 8h8v2h-8zM36 8h8v2h-8zM18 10h14v2h-14zM36 10h4v2h-4zM18 12h14v2h-14zM36 12h6v2h-6zM18 14h6v2h-6zM36 14h6v2h-6zM18 16h6v2h-6zM38 16h4v2h-4zM20 18h4v2h-4zM40 18h2v2h-2zM24 20h2v2h-2zM40 20h2v2h-2zM24 22h4v2h-4zM24 24h6v2h-6zM24 26h6v2h-6zM42 26h2v2h-2zM22 28h6v2h-6zM40 28h4v2h-4zM20 30h6v2h-6zM42 30h4v2h-4zM20 32h4v2h-4zM40 32h4v2h-4zM0 34h2v2h-2zM20 34h6v2h-6zM38 34h4v2h-4zM0 36h2v2h-2zM22 36h12v2h-12zM38 36h10v2h-10zM0 38h2v2h-2zM22 38h12v2h-12zM38 38h10v2h-10zM0 40h2v2h-2zM20 40h8v2h-8zM38 40h10v2h-10zM20 42h6v2h-6zM36 42h12v2h-12zM18 44h8v2h-8zM34 44h8v2h-8zM20 46h6v2h-6zM34 46h4v2h-4z"/>
<path fill="#60BF60" d="M16 0h4v2h-4zM38 0h8v2h-8zM14 2h2v2h-2zM38 2h8v2h-8zM24 14h8v2h-8zM24 16h6v2h-6zM36 16h2v2h-2zM24 18h6v2h-6zM34 18h6v2h-6zM26 20h6v2h-6zM34 20h6v2h-6zM28 22h2v2h-2zM36 22h2v2h-2zM32 24h4v2h-4zM30 26h6v2h-6zM28 28h8v2h-8zM26 30h8v2h-8zM38 30h4v2h-4zM24 32h8v2h-8zM38 32h2v2h-2zM26 34h4v2h-4zM2 40h2v2h-2zM0 42h6v2h-6zM0 44h6v2h-6zM42 44h6v2h-6zM4 46h2v2h-2zM18 46h2v2h-2zM38 46h10v2h-10z"/>
</pattern>
<pattern id="B50" patternUnits="userSpaceOnUse" width="24" height="24">
<path fill="#0000CD" d="M0 2h2v2h-2zM10 2h4v2h-4zM14 4h2v2h-2zM20 4h2v2h-2zM0 6h2v2h-2zM2 8h4v2h-4zM2 10h2v2h-2zM14 10h2v2h-2zM0 12h4v2h-4zM18 12h6v2h-6z"/>
<path fill="#0000CD" d="M0 0h2v2h-2zM14 0h2v2h-2zM18 0h2v2h-2zM22 0h2v2h-2zM6 2h4v2h-4zM14 2h8v2h-8zM6 4h8v2h-8zM6 6h6v2h-6zM6 8h2v2h-2zM12 8h2v2h-2zM4 10h6v2h-6zM12 10h2v2h-2zM8 12h4v2h-4zM16 12h2v2h-2zM8 14h4v2h-4zM20 14h2v2h-2zM8 16h6v2h-6zM22 16h2v2h-2zM6 18h2v2h-2zM6 20h2v2h-2zM14 20h4v2h-4zM16 22h4v2h-4z"/>
<path fill="#0000CD" d="M20 0h2v2h-2zM10 8h2v2h-2zM6 12h2v2h-2zM4 14h4v2h-4zM16 14h4v2h-4zM6 16h2v2h-2zM18 16h4v2h-4zM10 18h8v2h-8zM8 20h6v2h-6zM20 22h2v2h-2z"/>
</pattern><filter id="rag" x="0" y="200" width="1620" height="880" filterUnits="userSpaceOnUse" color-interpolation-filters="sRGB"><feTurbulence type="fractalNoise" baseFrequency="0.035" numOctaves="2" seed="3" result="n1"/><feDisplacementMap in="SourceGraphic" in2="n1" scale="22" xChannelSelector="R" yChannelSelector="G" result="d1"/><feTurbulence type="fractalNoise" baseFrequency="0.16" numOctaves="2" seed="7" result="n2"/><feDisplacementMap in="d1" in2="n2" scale="7" xChannelSelector="R" yChannelSelector="G"/></filter></defs>
<g clip-path="url(#us)"><g filter="url(#rag)">
<rect x="0" y="200" width="1620" height="880" fill="#CDAD00"/>
<path fill="#90EE90" d="M588 394 L620 392 L630 380 L630 360 L638 352 L646 336 L650 326 L660 318 L656 306 L664 296 L660 276 L676 274 L700 280 L720 286 L732 296 L746 290 L752 280 L758 270 L772 264 L777 280 L782 300 L792 308 L800 326 L816 330 L826 342 L838 336 L848 336 L860 346 L876 352 L894 348 L904 344 L920 352 L928 368 L950 378 L978 384 L1010 384 L1010 480 L588 480Z"/>
<path fill="#90EE90" d="M592 270 L604 268 L606 284 L618 296 L616 302 L602 300 L592 306Z"/>
<path fill="#90EE90" d="M396 270 L420 274 L434 270 L492 266 L508 264 L532 274 L560 270 L590 268 L590 286 L572 290 L556 304 L548 316 L560 324 L568 316 L580 308 L590 306 L590 324 L568 336 L566 352 L540 356 L528 352 L508 352 L504 364 L492 376 L464 380 L446 368 L452 352 L468 336 L464 324 L456 306 L446 298 L416 300 L392 306 L388 300 L402 286Z"/>
<path fill="#90EE90" d="M572 440 L590 420 L590 452 L576 452Z"/>
<path fill="#90EE90" d="M560 480 L572 474 L590 476 L590 486 L576 490 L564 490Z"/>
<path fill="#90EE90" d="M572 444 L590 440 L590 452Z"/>
<path fill="#90EE90" d="M560 520 L592 517 L592 448 L820 448 L820 680 L568 680 L572 612 L568 596 L570 588 L568 576 L560 568Z"/>
<path fill="#90EE90" d="M792 340 L1010 340 L1010 310 L1210 310 L1210 580 L792 580Z"/>
<path fill="#90EE90" d="M922.9 281.4 L1189.5 281.4 L1189.5 424.3 L922.9 424.3Z"/>
<path fill="#60BF60" d="M634 428 L646 420 L640 404 L664 394 L680 378 L684 364 L692 368 L700 380 L716 394 L732 392 L750 388 L760 400 L778 402 L782 416 L792 420 L792 352 L800 354 L810 364 L826 362 L840 352 L850 354 L856 364 L870 366 L886 368 L892 380 L904 392 L920 392 L940 400 L960 394 L980 396 L1010 388 L1010 480 L660 480 L656 444Z"/>
<path fill="#60BF60" d="M768 334 L780 333 L796 334 L792 344 L788 352 L768 351Z"/>
<path fill="#60BF60" d="M740 368 L750 356 L760 357 L756 376 L746 376Z"/>
<path fill="#60BF60" d="M560 536 L604 528 L643 518 L628 518 L622 506 L600 488 L628 490 L660 480 L666 466 L680 454 L740 450 L820 450 L820 680 L568 680 L572 606 L570 592 L600 580 L604 568 L588 580 L568 570 L560 560Z"/>
<path fill="#60BF60" d="M792 580 L792 354 L800 358 L820 360 L836 352 L850 352 L860 362 L876 366 L888 362 L892 374 L908 376 L932 386 L946 394 L960 392 L980 396 L1000 388 L1010 382 L1020 390 L1064 390 L1076 398 L1076 408 L1080 420 L1092 424 L1108 416 L1124 414 L1132 428 L1160 420 L1210 420 L1210 580Z"/>
<path fill="#60BF60" d="M1170 370 L1610 280 L1610 530 L1170 530Z"/>
<path fill="#60BF60" d="M1020 371 L1027.6 367.1 L1033.3 371 L1031.4 382.4 L1023.8 393.8 L1016.2 399.5 L1008.6 395.7 L1016.2 382.4Z"/>
<path fill="#60BF60" d="M1061.9 395.7 L1067.6 383.3 L1080 376.7 L1087.6 374.8 L1084.8 386.2 L1075.2 400.5 L1065.7 410 L1061 416Z"/>
<path fill="#309130" d="M740 480 L746 440 L752 426 L760 426 L766 440 L780 440 L788 452 L800 450 L820 456 L840 448 L848 438 L856 450 L880 452 L888 440 L900 452 L920 456 L940 452 L980 448 L1010 440 L1010 480Z"/>
<path fill="#309130" d="M866 388 L874 380 L886 381 L888 394 L878 397Z"/>
<path fill="#309130" d="M560 604 L588 600 L600 598 L620 600 L643 592 L644 548 L648 534 L672 528 L680 520 L700 516 L720 500 L740 490 L744 466 L820 454 L820 680 L568 680 L570 620Z"/>
<path fill="#309130" d="M770 458 L792 452 L810 458 L826 460 L838 448 L850 440 L860 452 L874 454 L888 442 L904 446 L920 460 L928 470 L938 464 L946 468 L956 470 L968 476 L980 468 L988 460 L992 440 L1000 448 L1006 460 L1020 462 L1060 468 L1072 480 L1092 478 L1104 484 L1120 476 L1132 460 L1146 452 L1160 452 L1164 460 L1210 480 L1210 580 L770 580Z"/>
<path fill="#309130" d="M866 388 L874 380 L886 381 L888 394 L878 397Z"/>
<path fill="#309130" d="M1254 440 L1272 438 L1292 444 L1320 434 L1330 438 L1340 442 L1360 448 L1372 454 L1390 450 L1400 442 L1404 460 L1398 480 L1380 470 L1388 456 L1360 456 L1332 452 L1312 462 L1288 456 L1266 454 L1256 460Z"/>
<path fill="#309130" d="M1410 462 L1458 462 L1470 456 L1476 470 L1468 482 L1480 498 L1500 498 L1500 516 L1360 516 L1368 506 L1400 510 L1402 482Z"/>
<path fill="#309130" d="M1170 506 L1216 488 L1216 516 L1170 516Z"/>
<path fill="#309130" d="M990 480 L1217 480 L1217 560 L990 560Z"/>
<path fill="#006400" d="M584 618 L600 612 L620 612 L643 620 L646 620 L660 612 L680 600 L692 588 L720 568 L730 554 L760 548 L746 544 L740 526 L760 510 L820 498 L820 680 L618 680 L618 649 L620 636 L600 632 L588 640 L582 649 L584 632Z"/>
<path fill="#006400" d="M770 498 L800 500 L810 510 L814 520 L832 522 L860 526 L884 512 L900 504 L916 494 L932 492 L946 494 L960 498 L968 510 L980 514 L1000 510 L1020 512 L1032 516 L1056 520 L1066 528 L1080 532 L1100 524 L1120 528 L1140 532 L1160 536 L1180 540 L1210 544 L1210 580 L770 580Z"/>
<path fill="#006400" d="M770 460 L788 464 L800 480 L808 500 L780 500Z"/>
<path fill="#006400" d="M1390 450 L1398 446 L1400 462 L1394 478 L1388 470Z"/>
<path fill="#006400" d="M1416 486 L1432 484 L1432 502 L1416 504Z"/>
<path fill="#006400" d="M1460 466 L1472 464 L1474 482 L1464 490 L1456 482Z"/>
<path fill="#006400" d="M1372 500 L1400 502 L1444 504 L1446 516 L1370 516Z"/>
<path fill="#006400" d="M990 516 L1020 512 L1030 520 L1050 524 L1076 528 L1094 524 L1104 528 L1124 524 L1140 532 L1160 538 L1176 536 L1192 528 L1208 530 L1218 528 L1226 536 L1240 538 L1240 590 L990 590Z"/>
<path fill="#FF00FF" d="M820 544 L780 546 L756 558 L748 568 L750 582 L726 588 L720 606 L700 620 L696 630 L704 638 L690 638 L660 642 L620 648 L620 680 L820 680Z"/>
<path fill="#FF00FF" d="M770 544 L800 542 L810 532 L814 540 L840 546 L860 550 L884 548 L900 538 L908 526 L918 516 L936 520 L940 532 L960 542 L980 540 L992 536 L1000 540 L1028 540 L1040 552 L1060 558 L1100 563 L1120 552 L1132 560 L1140 552 L1156 548 L1160 563 L1210 563 L1210 580 L770 580Z"/>
<path fill="#FF00FF" d="M1388 506 L1420 506 L1436 510 L1436 516 L1388 516Z"/>
<path fill="#FF00FF" d="M990 544 L1026 544 L1034 554 L1048 564 L1058 558 L1066 554 L1078 562 L1094 568 L1100 564 L1112 552 L1120 550 L1128 558 L1140 556 L1148 548 L1156 550 L1154 566 L1164 576 L1180 572 L1190 566 L1200 570 L1204 578 L1218 580 L1222 570 L1230 562 L1226 554 L1222 536 L1230 532 L1234 542 L1232 556 L1236 558 L1288 550 L1300 542 L1320 540 L1340 546 L1360 536 L1370 530 L1380 516 L1390 510 L1430 502 L1430 730 L990 730Z"/>
<path fill="#FF00FF" d="M770 552 L1030 548 L1040 554 L1050 566 L1060 560 L1076 558 L1092 572 L1100 560 L1120 550 L1140 552 L1156 568 L1172 578 L1184 572 L1210 566 L1210 780 L770 780Z"/>
<path fill="#D800D8" d="M820 568 L780 584 L760 600 L744 620 L720 632 L708 640 L720 652 L760 658 L820 656Z"/>
<path fill="#D800D8" d="M990 574 L1016 570 L1028 580 L1040 590 L1056 586 L1076 594 L1086 602 L1104 598 L1120 602 L1140 596 L1156 602 L1172 608 L1188 598 L1200 594 L1212 586 L1220 584 L1226 622 L1240 610 L1260 594 L1276 578 L1288 570 L1300 562 L1340 560 L1360 560 L1380 556 L1390 540 L1430 540 L1430 730 L990 730Z"/>
<path fill="#D800D8" d="M770 578 L800 574 L820 575 L844 578 L868 574 L892 566 L908 568 L932 566 L946 578 L970 566 L1000 568 L1026 576 L1050 586 L1068 580 L1080 590 L1100 586 L1120 590 L1140 594 L1160 600 L1180 596 L1210 600 L1210 780 L770 780Z"/>
<path fill="#D800D8" d="M562.5 715 L590 690 L617.5 685 L620 651.2 L1077.5 651.2 L1077.5 940 L577.5 940 L572.5 780 L562.5 752.5Z"/>
<path fill="#B100B1" d="M990 630 L1020 626 L1040 628 L1060 638 L1080 642 L1100 648 L1120 650 L1140 648 L1160 642 L1174 634 L1180 666 L1220 666 L1240 662 L1260 660 L1280 650 L1300 642 L1312 630 L1320 610 L1328 602 L1340 602 L1356 590 L1360 602 L1350 618 L1360 630 L1430 630 L1430 730 L990 730Z"/>
<path fill="#B100B1" d="M770 700 L820 700 L844 706 L880 700 L920 692 L940 680 L956 670 L968 654 L984 652 L988 644 L1000 636 L1012 628 L1028 624 L1040 630 L1060 634 L1080 640 L1092 652 L1108 658 L1132 660 L1160 660 L1180 660 L1210 668 L1210 780 L770 780Z"/>
<path fill="#B100B1" d="M560 757.5 L590 747.5 L620 745 L650 727.5 L680 722.5 L700 715 L715 712.5 L735 710 L757.5 700 L780 697.5 L815 700 L840 690 L865 692.5 L890 685 L915 680 L940 682.5 L960 675 L975 665 L990 660 L1015 660 L1077.5 660 L1077.5 940 L577.5 940 L572.5 795Z"/>
<path fill="#8B008B" d="M1192 716 L1200 690 L1220 682 L1240 676 L1260 670 L1280 670 L1300 672 L1308 670 L1328 650 L1360 650 L1360 716Z"/>
<path fill="#8B008B" d="M846 752 L860 740 L880 732 L892 720 L908 716 L924 706 L940 700 L952 692 L968 684 L980 686 L996 692 L1010 704 L1016 714 L1080 716 L1108 714 L1112 700 L1120 688 L1132 692 L1120 706 L1116 714 L1160 716 L1210 712 L1210 780 L846 780Z"/>
<path fill="#8B008B" d="M572.5 795 L585 787.5 L605 785 L620 780 L640 765 L650 760 L665 765 L680 775 L700 770 L710 765 L725 775 L740 780 L765 780 L780 775 L800 770 L815 775 L840 765 L850 760 L872.5 750 L890 740 L915 727.5 L940 715 L952.5 705 L965 690 L980 685 L990 695 L1005 705 L1040 707.5 L1077.5 710 L1077.5 940 L577.5 940Z"/>
<path fill="#8B008B" d="M970 694 L1040 698 L1076 702 L1080 716 L1140 716 L1140 726 L1080 770 L970 770Z"/>
<path fill="#FFA54F" d="M1194 716 L1200 700 L1220 698 L1232 692 L1252 690 L1260 682 L1280 684 L1300 680 L1312 670 L1320 662 L1328 650 L1330 618 L1338 618 L1340 630 L1344 646 L1360 650 L1360 716Z"/>
<path fill="#FFA54F" d="M854 766 L860 760 L872 758 L880 750 L884 760 L900 762 L908 750 L906 728 L920 730 L932 726 L944 716 L956 706 L968 704 L980 712 L960 716 L972 720 L980 726 L992 722 L1004 720 L1012 732 L1014 748 L1028 756 L1040 744 L1056 740 L1076 746 L1088 740 L1100 732 L1108 740 L1124 734 L1140 728 L1148 720 L1160 716 L1176 712 L1210 712 L1210 780 L854 780Z"/>
<path fill="#FFA54F" d="M577.5 802.5 L590 800 L615 790 L635 787.5 L645 782.5 L660 775 L670 782.5 L685 790 L695 787.5 L710 795 L720 805 L705 815 L710 830 L720 835 L735 830 L765 835 L780 825 L800 815 L810 800 L825 790 L835 775 L847.5 765 L857.5 762.5 L872.5 760 L895 762.5 L907.5 750 L910 725 L930 722.5 L945 712.5 L960 705 L975 710 L1010 715 L1015 740 L1030 750 L1050 745 L1077.5 740 L1077.5 1077.5 L577.5 1077.5Z"/>
<path fill="#FFA54F" d="M970 726 L996 722 L1010 726 L1014 748 L1024 756 L1040 754 L1056 748 L1060 734 L1076 742 L1080 766 L1086 746 L1100 730 L1108 738 L1120 736 L1136 730 L1144 724 L1160 712 L1172 712 L1180 724 L1172 736 L1180 744 L1192 716 L1196 702 L1220 698 L1240 690 L1260 680 L1410 680 L1410 930 L970 930Z"/>
<path fill="#EE9035" d="M1260 716 L1280 702 L1300 698 L1320 690 L1340 690 L1360 690 L1360 716Z"/>
<path fill="#EE9035" d="M950 766 L956 754 L980 752 L1000 750 L1008 756 L1008 766Z"/>
<path fill="#EE9035" d="M1100 766 L1120 752 L1140 748 L1150 756 L1160 766Z"/>
<path fill="#EE9035" d="M580 890 L605 875 L615 845 L640 835 L665 847.5 L700 865 L730 865 L765 860 L790 850 L815 835 L840 815 L857.5 795 L890 790 L915 780 L932.5 765 L945 750 L965 750 L990 747.5 L1010 750 L1030 765 L1077.5 765 L1077.5 1077.5 L580 1077.5Z"/>
<path fill="#EE9035" d="M970 756 L1000 766 L1012 774 L1040 770 L1060 766 L1080 778 L1092 766 L1108 754 L1132 752 L1144 762 L1140 778 L1160 774 L1180 766 L1192 756 L1220 742 L1240 728 L1260 720 L1280 710 L1300 698 L1320 680 L1410 680 L1410 930 L970 930Z"/>
<path fill="#DD7B1A" d="M595 905 L615 890 L645 880 L680 885 L715 890 L765 880 L800 870 L825 855 L850 840 L865 830 L890 830 L920 820 L930 805 L950 800 L970 805 L1005 815 L1030 810 L1077.5 805 L1077.5 1077.5 L595 1077.5Z"/>
<path fill="#DD7B1A" d="M970 830 L1000 834 L1020 826 L1040 818 L1072 812 L1096 818 L1120 810 L1152 808 L1180 802 L1196 798 L1208 794 L1224 782 L1240 770 L1256 758 L1272 746 L1288 738 L1308 726 L1332 714 L1350 698 L1360 680 L1410 680 L1410 930 L970 930Z"/>
<path fill="#CD6600" d="M725 1015 L730 962.5 L745 935 L765 912.5 L800 892.5 L830 870 L865 860 L890 855 L920 855 L950 860 L970 865 L980 860 L1005 857.5 L1027.5 855 L1077.5 852.5 L1077.5 1077.5 L725 1077.5Z"/>
<path fill="#CD6600" d="M970 856 L1004 854 L1026 850 L1060 850 L1092 848 L1104 842 L1120 838 L1140 844 L1160 846 L1180 838 L1192 826 L1200 818 L1220 798 L1240 784 L1260 766 L1280 752 L1292 738 L1320 728 L1336 720 L1350 702 L1352 690 L1410 690 L1410 930 L970 930Z"/>
<path fill="#00FFFF" d="M742.5 1015 L743.8 985 L748.8 970 L743.8 955 L750 940 L765 925 L780 915 L800 905 L815 890 L840 882.5 L865 880 L890 877.5 L910 872.5 L930 877.5 L950 872.5 L970 875 L985 865 L1005 860 L1030 857.5 L1077.5 857.5 L1077.5 1077.5 L745 1077.5Z"/>
<path fill="#00FFFF" d="M970 866 L1004 864 L1020 856 L1026 862 L1040 860 L1056 866 L1072 870 L1092 868 L1100 860 L1116 858 L1120 850 L1128 850 L1128 858 L1168 862 L1180 854 L1188 842 L1196 830 L1204 822 L1220 830 L1220 930 L970 930Z"/>
<path fill="#00FFFF" d="M1050.1 859.7 L1099.4 858.7 L1170.4 864.6 L1176.3 855.8 L1190.1 857.7 L1198 879.4 L1237.5 938.6 L1237.5 1056.9 L1138.9 1056.9 L1138.9 897.2 L1121.1 877.5 L1099.4 887.3 L1087.6 891.3 L1071.8 869.6 L1050.1 865.6Z"/>
<path fill="#00D8D8" d="M755 1015 L755 985 L758.8 970 L756.2 960 L762.5 945 L780 930 L800 920 L820 905 L835 895 L862.5 887.5 L890 887.5 L915 885 L930 890 L950 885 L980 880 L990 890 L990 940 L865 915 L815 940 L790 965 L770 1015Z"/>
<path fill="#00D8D8" d="M1140 916 L1140 890 L1152 874 L1168 870 L1180 866 L1188 870 L1196 890 L1200 916Z"/>
<path fill="#00D8D8" d="M1150.7 879.4 L1170.4 869.6 L1182.3 867.6 L1194.1 875.5 L1202 903.1 L1217.7 950.4 L1229.6 989.9 L1227.6 1037.2 L1198 1045.1 L1176.3 989.9 L1158.6 966.2 L1152.7 946.5 L1158.6 922.8 L1154.6 911 L1148.7 899.2Z"/>
<path fill="#00B1B1" d="M1160 916 L1168 890 L1180 878 L1188 882 L1194 898 L1198 916Z"/>
<path fill="#00B1B1" d="M1158.6 922.8 L1166.5 905.1 L1178.3 899.2 L1182.3 879.4 L1190.1 871.5 L1198 891.3 L1203.9 914.9 L1209.9 938.6 L1217.7 958.3 L1229.6 989.9 L1227.6 1037.2 L1198 1045.1 L1186.2 1001.7 L1176.3 989.9 L1168.5 985.9 L1162.5 966.2 L1166.5 954.4 L1156.6 934.6Z"/>
<path fill="#008B8B" d="M1182.3 922.8 L1198 918.9 L1205.9 934.6 L1202 942.5 L1190.1 942.5 L1182.3 932.7Z"/>
<path fill="#008B8B" d="M1198 950.4 L1209.9 950.4 L1213.8 966.2 L1205.9 978 L1198 966.2Z"/>
<path fill="#008B8B" d="M1186.2 993.8 L1202 989.9 L1209.9 1007.6 L1205.9 1021.4 L1198 1013.5 L1190.1 1005.6Z"/>
<path fill="#ADFF2F" d="M763.8 975 L768.8 975 L775 1012.5 L768.8 1015Z"/>
<path fill="#ADFF2F" d="M1203.9 914.9 L1209.9 922.8 L1217.7 950.4 L1225.6 974.1 L1233.5 989.9 L1231.6 1013.5 L1227.6 1029.3 L1223.7 1043.1 L1209.9 1045.1 L1202 1047 L1196.1 1039.2 L1205.9 1025.4 L1213.8 1017.5 L1205.9 1001.7 L1202 985.9 L1205.9 970.1 L1213.8 974.1 L1215.8 962.3 L1209.9 938.6Z"/>
<path fill="#ADFF2F" d="M1150.7 940.6 L1162.5 946.5 L1158.6 966.2 L1152.7 958.3Z"/>
<path fill="#ADFF2F" d="M1166.5 985.9 L1178.3 991.8 L1182.3 1013.5 L1194.1 1021.4 L1198 1037.2 L1188.2 1021.4 L1178.3 1009.6 L1172.4 995.8Z"/>
<path fill="#67B110" d="M1221.7 989.9 L1231.6 989.9 L1231.6 1013.5 L1225.6 1031.3 L1217.7 1043.1 L1213.8 1037.2 L1219.7 1021.4 L1223.7 1005.6Z"/>
<path fill="#006400" d="M1236 558 L1248 558 L1274 558 L1288 550 L1276 566 L1268 578 L1250 594 L1240 602 L1224 618 L1216 630 L1200 638 L1188 630 L1184 622 L1196 618 L1204 606 L1216 594 L1220 580 L1230 562Z"/>
<path fill="url(#M50)" d="M1168 658 L1188 644 L1200 640 L1224 644 L1240 634 L1260 618 L1268 620 L1248 638 L1220 658 L1200 664 L1184 666Z"/>
<path fill="#006400" d="M1260 590 L1276 586 L1260 606 L1248 618 L1240 620 L1252 606Z"/>
<path fill="#006400" d="M1356 510 L1370 502 L1390 510 L1380 516 L1370 530 L1360 536 L1340 546 L1320 540 L1300 542 L1312 534 L1340 526Z"/>
<path fill="#006400" d="M1174 658 L1188 648 L1200 644 L1216 648 L1212 656 L1200 660 L1188 662Z"/>
<path fill="#309130" d="M1234 560 L1272 559 L1266 576 L1248 592 L1238 602 L1222 618 L1214 628 L1200 630 L1206 610 L1218 594 L1222 580Z"/>
<path fill="url(#M50)" d="M1176 666 L1192 666 L1184 682 L1172 696 L1156 708 L1144 718 L1120 718 L1140 698 L1160 682Z"/>
<path fill="#309130" d="M1280 530 L1300 514 L1328 502 L1348 498 L1340 522 L1312 534 L1288 548Z"/>
<path fill="#309130" d="M1120 714 L1132 700 L1152 688 L1172 676 L1184 664 L1210 660 L1210 676 L1188 684 L1172 696 L1156 708 L1140 716Z"/>
<path fill="#60BF60" d="M1238 562 L1260 560 L1258 574 L1248 590 L1236 604 L1222 618 L1212 618 L1216 606 L1226 590Z"/>
<path fill="#60BF60" d="M1218 480 L1360 480 L1356 510 L1340 526 L1312 534 L1288 550 L1274 558 L1236 558 L1232 556 L1234 542 L1230 532 L1240 520 L1220 514Z"/>
<path fill="#60BF60" d="M1284 512 L1308 498 L1328 490 L1320 506 L1296 522 L1276 540 L1260 556 L1252 550 L1266 530Z"/>
<path fill="#60BF60" d="M1186 654 L1198 649 L1208 650 L1200 656Z"/>
<path fill="#90EE90" d="M700 402 L710 399 L724 403 L722 410 L704 410Z"/>
<path fill="#90EE90" d="M566 568 L596 564 L604 572 L598 584 L588 590 L576 580Z"/>
<path fill="#90EE90" d="M780 376 L788 380 L792 400 L788 420 L780 424Z"/>
<path fill="#90EE90" d="M1516 298 L1560 310 L1580 390 L1560 406 L1520 422 L1492 434 L1470 452 L1466 374 L1488 344 L1494 326Z"/>
<path fill="#90EE90" d="M1406 384 L1468 374 L1470 430 L1432 442 L1426 460 L1406 460Z"/>
<path fill="#90EE90" d="M1336 422 L1356 402 L1372 390 L1400 388 L1402 430 L1390 448 L1368 450 L1352 438 L1340 438Z"/>
<path fill="#90EE90" d="M1240 476 L1264 464 L1288 461 L1312 468 L1332 458 L1356 462 L1368 472 L1360 482 L1236 482Z"/>
<path fill="#90EE90" d="M1226 490 L1308 487 L1320 498 L1300 504 L1270 508 L1240 506Z"/>
<path fill="#90EE90" d="M1212 614 L1224 594 L1236 578 L1244 564 L1254 566 L1248 590 L1236 606 L1224 620 L1216 620Z"/>
<path fill="#90EE90" d="M1176 674 L1180 675 L1168 690 L1154 702 L1144 710 L1140 709 L1156 694Z"/>
<path fill="#90EE90" d="M1230 480 L1290 480 L1280 498 L1268 512 L1258 530 L1250 550 L1248 556 L1238 556 L1246 538 L1254 520 L1240 506Z"/>
<path fill="#90EE90" d="M1136 710 L1148 696 L1168 684 L1184 672 L1200 668 L1188 680 L1172 692 L1156 704 L1144 712Z"/>
<path fill="#CDAD00" d="M704 334 L710 322 L718 326 L716 336 L728 344 L720 349 L708 348Z"/>
<path fill="#CDAD00" d="M436 272 L456 270 L480 278 L480 290 L460 286 L436 284Z"/>
<path fill="#CDAD00" d="M548 310 L560 296 L580 290 L580 300 L568 316 L552 320Z"/>
<path fill="#CDAD00" d="M592 458 L610 466 L608 476 L592 480Z"/>
<path fill="#CDAD00" d="M904 336 L960 336 L1012 352 L1010 366 L1000 380 L990 385 L980 380 L960 371 L948 376 L928 366 L924 352 L904 348Z"/>
<path fill="#CDAD00" d="M852 336 L900 336 L900 346 L872 350Z"/>
<path fill="#CDAD00" d="M1076 348 L1120 336 L1140 350 L1120 354 L1100 352 L1084 349Z"/>
<path fill="#CDAD00" d="M1104 372 L1112 373 L1124 380 L1120 383 L1108 378Z"/>
<path fill="#CDAD00" d="M1520 338 L1544 320 L1552 350 L1528 352 L1512 356Z"/>
<path fill="#CDAD00" d="M1456 376 L1466 374 L1468 418 L1456 422 L1444 418 L1440 408 L1452 394Z"/>
<path fill="#CDAD00" d="M1420 390 L1448 386 L1450 398 L1440 406 L1428 410 L1420 430 L1424 454 L1412 456 L1412 430 L1416 410Z"/>
<path fill="#CDAD00" d="M1356 418 L1368 406 L1384 390 L1392 394 L1396 410 L1392 426 L1388 438 L1372 442 L1360 434Z"/>
<path fill="#CDAD00" d="M1340 426 L1346 424 L1350 430 L1344 434Z"/>
<path fill="#CDAD00" d="M1260 474 L1270 470 L1272 474 L1262 478Z"/>
<path fill="#CDAD00" d="M1368 474 L1380 472 L1384 480 L1372 486Z"/>
<path fill="#CDAD00" d="M1256 488 L1266 487 L1268 496 L1258 498Z"/>
<path fill="#CDAD00" d="M1220 610 L1230 594 L1240 580 L1248 576 L1244 588 L1234 602 L1224 614Z"/>
<path fill="#CDAD00" d="M1256 490 L1268 490 L1268 498 L1258 498Z"/>
<path fill="#CDAD00" d="M941.9 291 L1003.8 291 L1011.4 319.5 L1022.9 321.4 L1033.3 332.9 L1039 341.4 L1033.3 348.1 L1021.9 350 L1011.4 353.8 L999 351 L980 344.3 L941.9 333.8Z"/>
<path fill="#CDAD00" d="M980 344.3 L1011.4 353.8 L1008.6 371 L999 382.4 L980 386.2 L961 376.7 L951.4 357.6Z"/>
<path fill="#CDAD00" d="M1046.7 336.7 L1052.4 337.6 L1061 331 L1068.6 328.1 L1082.9 328.1 L1098.1 325.2 L1097.1 334.8 L1115.2 335.7 L1120 347.1 L1137.1 351.9 L1137.1 354.8 L1103.8 351.9 L1094.3 350 L1084.8 348.1 L1080 341.4 L1075.2 338.6 L1065.7 337.6 L1056.2 340.5Z"/>
<path fill="#CDAD00" d="M1105.7 372.9 L1111.4 371 L1124.8 380.5 L1122.9 384.3 L1113.3 380.5Z"/>
<path fill="#DDC800" d="M630 252 L772 252 L760 264 L720 267 L680 260 L640 265Z"/>
<path fill="#DDC800" d="M772 252 L828 252 L828 240 L838 240 L842 260 L864 266 L900 274 L940 278 L980 283 L950 290 L920 306 L900 316 L880 308 L860 300 L830 298 L820 284 L800 272 L780 260Z"/>
<path fill="#DDC800" d="M438 274 L454 273 L460 280 L440 282Z"/>
<path fill="#DDC800" d="M516 256 L560 256 L588 260 L560 270 L532 272 L520 264Z"/>
<path fill="#DDC800" d="M380 300 L400 300 L420 296 L448 294 L464 304 L472 324 L466 344 L454 356 L452 368 L464 382 L456 382 L444 368 L448 352 L460 340 L466 324 L460 306 L446 298 L420 300 L400 306 L380 308Z"/>
<path fill="#DDC800" d="M536 420 L550 418 L556 440 L544 452 L532 442Z"/>
<path fill="#DDC800" d="M592 398 L606 400 L616 416 L610 436 L596 440 L592 436Z"/>
<path fill="#DDC800" d="M556 486 L590 486 L590 517 L560 517Z"/>
<path fill="#DDC800" d="M566 572 L580 576 L588 584 L580 590 L570 588Z"/>
<path fill="#DDC800" d="M968 348 L1000 354 L1004 366 L988 364 L972 358Z"/>
<path fill="#DDC800" d="M1516 298 L1556 314 L1556 356 L1528 354 L1516 370 L1500 384 L1484 390 L1470 402 L1466 374 L1488 344 L1494 326Z"/>
<path fill="#DDC800" d="M951.4 310 L999 300.5 L1004.8 324.3 L1020 325.2 L1029.5 338.6 L1021 346.2 L1008.6 348.1 L989.5 341.4 L961 329Z"/>
<path fill="#DDC800" d="M980 350 L1003.8 354.8 L1002.9 367.1 L991.4 376.7 L975.2 371Z"/>
<path fill="#EEE300" d="M0 200 L396 200 L396 300 L410 330 L420 385 L440 385 L440 500 L0 500Z"/>
<path fill="#EEE300" d="M940 287 L978 283 L960 292 L940 298Z"/>
<path fill="#EEE300" d="M380 308 L400 306 L420 300 L446 298 L460 306 L466 324 L460 340 L448 352 L444 368 L456 382 L380 383Z"/>
<path fill="#EEE300" d="M404 384 L520 385 L532 444 L540 466 L380 466 L380 412 L404 412Z"/>
<path fill="#EEE300" d="M593 402 L604 404 L612 416 L608 432 L596 436 L593 432Z"/>
<path fill="#EEE300" d="M406 428 L520 428 L536 480 L556 486 L560 517 L406 517Z"/>
<path fill="#EEE300" d="M380 517 L460 517 L460 580 L440 580 L428 572 L400 584 L380 584Z"/>
<path fill="#EEE300" d="M459 517 L560 517 L572 649 L459 649Z"/>
<path fill="#FFFF00" d="M594 410 L602 410 L604 420 L596 424Z"/>
<path fill="url(#R35)" d="M274 258 L344 258 L360 280 L372 308 L364 336 L348 344 L328 340 L320 328 L308 316 L292 300 L280 288 L274 280Z"/>
<path fill="url(#R20)" d="M248 258 L272 258 L272 288 L288 306 L308 326 L300 344 L280 352 L268 360 L252 352 L250 300Z"/>
<path fill="url(#R35)" d="M360 312 L440 312 L444 360 L400 360 L384 368 L364 352Z"/>
<path fill="#DDC800" d="M66 320 L86 316 L104 306 L110 320 L100 332 L104 348 L92 352 L80 344 L66 344Z"/>
<path fill="#DDC800" d="M192 274 L220 270 L244 280 L244 306 L230 292 L212 286 L196 286Z"/>
<path fill="#DDC800" d="M132 380 L148 376 L160 396 L180 400 L200 392 L220 400 L228 416 L212 432 L196 452 L176 452 L160 432 L140 420 L132 400Z"/>
<path fill="#DDC800" d="M360 412 L400 414 L404 440 L400 466 L332 466 L320 452 L332 432 L348 430Z"/>
<path fill="#DDC800" d="M452 388 L488 387 L500 400 L510 420 L504 440 L480 442 L468 430 L460 416Z"/>
<path fill="#DDC800" d="M468 440 L508 442 L532 444 L540 466 L468 466Z"/>
<path fill="#DDC800" d="M492 444 L520 442 L540 456 L536 480 L520 478 L500 476 L476 474 L474 460Z"/>
<path fill="#DDC800" d="M460 518 L500 518 L500 534 L492 552 L472 560 L460 552Z"/>
<path fill="#DDC800" d="M50 450 L246 450 L246 483 L50 483Z"/>
<path fill="#DDC800" d="M249 450 L404 450 L404 483 L249 483Z"/>
<path fill="#CDAD00" d="M192 290 L212 286 L230 292 L244 306 L244 324 L232 316 L220 300 L200 298Z"/>
<path fill="#CDAD00" d="M180 420 L200 416 L212 426 L200 448 L180 448Z"/>
<path fill="#CDAD00" d="M348 258 L444 254 L444 268 L400 270 L384 290 L388 306 L372 300 L360 280 L350 268Z"/>
<path fill="#90EE90" d="M160 280 L180 278 L192 286 L212 278 L220 296 L236 306 L232 320 L244 328 L248 348 L220 349 L192 352 L160 360 L148 352 L150 336 L164 330 L168 316 L160 300Z"/>
<path fill="#90EE90" d="M80 368 L96 364 L104 376 L96 392 L86 412 L76 432 L72 452 L80 466 L52 466 L60 440 L66 420 L76 392Z"/>
<path fill="#90EE90" d="M140 364 L160 362 L192 354 L212 354 L208 362 L196 368 L180 368 L160 372 L156 392 L148 392 L148 376Z"/>
<path fill="#90EE90" d="M228 388 L240 392 L246 404 L256 392 L266 396 L270 412 L280 428 L300 440 L320 452 L332 466 L220 466 L212 452 L224 432 L236 420 L240 404Z"/>
<path fill="#90EE90" d="M250 334 L266 330 L272 344 L262 360 L256 352Z"/>
<path fill="#90EE90" d="M460 392 L484 388 L492 404 L504 420 L500 432 L484 434 L476 420 L466 410Z"/>
<path fill="#90EE90" d="M416 540 L458 534 L458 568 L440 564 L428 568 L420 560Z"/>
<path fill="#90EE90" d="M462 536 L474 534 L476 544 L464 548Z"/>
<path fill="#90EE90" d="M460 592 L472 596 L488 600 L492 606 L480 612 L468 606 L460 608Z"/>
<path fill="#90EE90" d="M460 614 L468 616 L472 628 L468 640 L460 649Z"/>
<path fill="#90EE90" d="M30 483 L460 483 L460 700 L30 700Z"/>
<path fill="#90EE90" d="M286 466 L404 464 L404 476 L330 478 L290 483 L249 483 L249 476Z"/>
<path fill="url(#G50)" d="M240 484 L326 484 L326 526 L310 544 L294 536 L276 520 L254 516 L242 500Z"/>
<path fill="url(#G30)" d="M230 544 L250 520 L276 524 L294 540 L310 548 L326 532 L326 600 L298 592 L278 596 L258 594 L238 596 L222 584 L226 564Z"/>
<path fill="#60BF60" d="M168 306 L180 298 L200 302 L212 316 L228 324 L240 334 L244 348 L192 350 L164 358 L160 344 L172 334 L168 320Z"/>
<path fill="#60BF60" d="M86 368 L98 368 L96 384 L88 384Z"/>
<path fill="#60BF60" d="M66 424 L80 420 L80 440 L68 452 L60 466 L54 466Z"/>
<path fill="#60BF60" d="M160 360 L192 352 L210 353 L204 360 L180 364Z"/>
<path fill="#60BF60" d="M240 412 L250 404 L260 400 L266 412 L276 428 L296 442 L316 454 L324 466 L240 466 L232 452 L240 432Z"/>
<path fill="#60BF60" d="M424 548 L458 544 L458 560 L432 560Z"/>
<path fill="#60BF60" d="M400 584 L428 572 L440 580 L458 572 L458 606 L440 598 L420 606 L404 602Z"/>
<path fill="#60BF60" d="M392 600 L458 600 L458 666 L380 666 L380 620Z"/>
<path fill="#60BF60" d="M460 568 L474 570 L480 580 L474 588 L460 584Z"/>
<path fill="#60BF60" d="M1520 386 L1540 384 L1528 402 L1508 414 L1492 430 L1476 446 L1470 452 L1470 430 L1486 414 L1504 398Z"/>
<path fill="#60BF60" d="M1405 386 L1416 386 L1412 410 L1408 430 L1405 430Z"/>
<path fill="#60BF60" d="M1410 464 L1432 464 L1440 474 L1420 480 L1406 480Z"/>
<path fill="#60BF60" d="M540 650 L615 650 L612.5 665 L590 690 L575 705 L562.5 715 L560 750 L555 765 L540 765Z"/>
<path fill="#60BF60" d="M50 450 L90 450 L96 472 L80 483 L50 483Z"/>
<path fill="#60BF60" d="M170 450 L246 450 L246 483 L202 483 L198 468Z"/>
<path fill="#60BF60" d="M280 450 L370 450 L350 466 L290 468Z"/>
<path fill="#60BF60" d="M230 516 L250 520 L266 532 L262 556 L250 572 L234 572 L226 548Z"/>
<path fill="#60BF60" d="M410 536 L454 540 L454 600 L410 600 L402 580Z"/>
<path fill="#309130" d="M172 320 L190 316 L206 326 L228 330 L236 344 L196 349 L184 344 L180 334Z"/>
<path fill="#309130" d="M248 412 L258 408 L264 420 L274 432 L294 446 L310 456 L314 466 L260 466 L250 444 L248 428Z"/>
<path fill="#309130" d="M406 584 L428 574 L440 581 L458 574 L458 603 L440 595 L420 603 L406 599Z"/>
<path fill="#309130" d="M1436 450 L1468 442 L1470 458 L1428 460Z"/>
<path fill="#309130" d="M540 760 L555 757.5 L562.5 780 L557.5 800 L545 802.5 L540 795Z"/>
<path fill="#309130" d="M60 456 L76 454 L82 468 L70 478 L60 472Z"/>
<path fill="#309130" d="M50 484 L110 484 L106 500 L96 516 L90 540 L74 544 L70 572 L68 584 L50 540 L54 510Z"/>
<path fill="#309130" d="M146 560 L170 578 L190 598 L202 618 L214 638 L226 658 L226 686 L194 686 L186 652 L174 632 L162 612 L154 590Z"/>
<path fill="#309130" d="M68 584 L86 604 L98 616 L106 640 L118 660 L118 686 L106 686 L98 652 L86 624 L70 600Z"/>
<path fill="#309130" d="M170 510 L194 500 L210 490 L230 492 L234 516 L230 540 L222 564 L218 580 L210 596 L202 600 L190 588 L182 572 L170 568Z"/>
<path fill="#309130" d="M218 588 L238 600 L258 598 L278 600 L298 596 L326 608 L326 632 L306 626 L290 632 L270 636 L254 624 L234 620 L222 608Z"/>
<path fill="#309130" d="M328 484 L370 484 L382 500 L386 520 L382 544 L370 564 L358 580 L350 600 L342 620 L328 628Z"/>
<path fill="#309130" d="M350 660 L370 656 L390 660 L410 660 L454 660 L454 686 L350 686Z"/>
<path fill="#006400" d="M250 428 L258 424 L270 438 L286 452 L280 458 L264 448 L252 438Z"/>
<path fill="#006400" d="M410 585 L428 577 L440 582.4 L458 576.4 L458 600 L440 592.4 L420 600 L408 596Z"/>
<path fill="#006400" d="M460 572 L472 574 L470 582 L460 580Z"/>
<path fill="#006400" d="M595 650 L615 650 L613.8 662.5 L600 665Z"/>
<path fill="#006400" d="M64 520 L82 512 L90 540 L74 544 L68 536Z"/>
<path fill="#006400" d="M172 520 L190 510 L206 500 L218 508 L222 528 L218 552 L214 576 L206 592 L196 584 L186 568 L174 560Z"/>
<path fill="#006400" d="M330 520 L346 516 L350 540 L342 564 L330 572Z"/>
<path fill="#006400" d="M422 580 L454 572 L454 596 L426 600Z"/>
<path fill="#FF00FF" d="M404 604 L420 592 L432 600 L446 596 L440 616 L430 620 L432 640 L420 648 L404 648 L400 632 L412 620Z"/>
<path fill="#FF00FF" d="M380 642 L458 648 L458 666 L380 666Z"/>
<path fill="#FF00FF" d="M1044 590 L1060 586 L1084 598 L1096 610 L1080 614 L1060 610Z"/>
<path fill="#FF00FF" d="M1116 606 L1140 602 L1152 614 L1148 638 L1128 642 L1116 626Z"/>
<path fill="#FF00FF" d="M858 590 L884 592 L892 606 L908 596 L932 586 L946 596 L960 620 L972 628 L960 644 L940 648 L908 652 L888 660 L856 662 L856 648 L870 636 L872 616Z"/>
<path fill="#FF00FF" d="M784 606 L796 600 L800 612 L788 616Z"/>
<path fill="#FF00FF" d="M620 651.2 L715 651.2 L710 665 L700 675 L670 680 L640 682.5 L620 690Z"/>
<path fill="#FF00FF" d="M70 546 L86 544 L94 564 L78 572Z"/>
<path fill="#D800D8" d="M540 820 L565 817.5 L580 840 L595 857.5 L602.5 872.5 L590 882.5 L577.5 877.5 L565 857.5 L550 842.5 L540 835Z"/>
<path fill="#D800D8" d="M540 815 L577.5 815 L585 840 L595 855 L602.5 870 L590 880 L577.5 875 L565 855 L550 840 L540 830Z"/>
<path fill="#D800D8" d="M1104 716 L1120 710 L1136 698 L1148 690 L1172 690 L1160 702 L1148 714 L1132 726 L1116 734 L1108 730Z"/>
<path fill="#D800D8" d="M98 518 L110 516 L118 528 L124 548 L138 560 L150 576 L158 588 L162 604 L170 620 L182 636 L194 652 L202 672 L206 686 L118 686 L118 660 L106 640 L98 616 L86 604 L70 584 L74 576 L90 572 L96 552 L92 536Z"/>
<path fill="#D800D8" d="M100 640 L422.5 640 L422.5 652.5 L460 655 L575 655 L590 645 L620 645 L620 817.5 L522.5 817.5 L625 920 L350 935 L100 935Z"/>
<path fill="#B100B1" d="M102 540 L114 540 L122 556 L138 572 L150 592 L158 612 L174 636 L186 656 L194 686 L130 686 L122 652 L110 628 L102 604 L98 580Z"/>
<path fill="#B100B1" d="M162.5 675 L200 670 L205 710 L185 720 L170 710Z"/>
<path fill="#B100B1" d="M320 755 L375 745 L400 765 L395 800 L360 810 L325 795Z"/>
<path fill="#8B008B" d="M1172 740 L1180 728 L1188 716 L1192 732 L1180 756Z"/>
<path fill="#8B008B" d="M680 812.5 L690 805 L695 815 L685 825Z"/>
<path fill="#8B008B" d="M742.5 842.5 L750 840 L750 850 L743.8 850Z"/>
<path fill="#8B008B" d="M662.5 827.5 L670 826.2 L670 832.5 L663.8 833.8Z"/>
<path fill="#8B008B" d="M1172 712 L1192 712 L1188 730 L1180 746 L1170 742 L1172 730Z"/>
<path fill="#8B008B" d="M1196 740 L1200 740 L1200 744 L1196 744Z"/>
<path fill="#CD6600" d="M1098 868 L1108 866 L1112 874 L1100 880Z"/>
<path fill="#CD6600" d="M1099.4 873.5 L1107.3 867.6 L1109.3 875.5 L1101.4 879.4Z"/>
<path fill="#309130" d="M1132 702 L1140 692 L1156 690 L1152 702 L1140 712Z"/>
<path fill="#DDC800" d="M78 450 L90 450 L94 464 L86 472 L80 460Z"/>
<path fill="#DDC800" d="M110 484 L168 484 L168 580 L158 572 L142 556 L130 536 L118 516 L106 512 L106 500Z"/>
<path fill="#DDC800" d="M250 492 L290 486 L322 488 L322 520 L306 536 L290 528 L270 512 L250 508Z"/>
<path fill="#DDC800" d="M270 550 L282 548 L286 572 L274 576Z"/>
<path fill="#DDC800" d="M234 580 L246 572 L250 588 L238 596Z"/>
<path fill="#DDC800" d="M290 572 L310 568 L318 588 L298 592Z"/>
<path fill="#DDC800" d="M170 486 L202 486 L198 500 L182 508 L170 508Z"/>
<path fill="#EEE300" d="M540 650 L570 650 L580 670 L570 695 L560 705 L540 705Z"/>
<path fill="#EEE300" d="M542.5 765 L552.5 762.5 L556.2 780 L553.8 792.5 L545 795Z"/>
<path fill="#EEE300" d="M150 564 L168 580 L186 600 L198 620 L210 640 L222 660 L222 686 L198 686 L190 652 L178 632 L166 612 L158 588Z"/>
<path fill="#EEE300" d="M390 484 L410 484 L422 520 L418 556 L410 580 L402 600 L390 616 L374 632 L350 640 L342 632 L358 616 L374 596 L386 572 L390 544 L394 520Z"/>
<path fill="#EEE300" d="M370 660 L378 658 L382 680 L374 686Z"/>
<path fill="#EEE300" d="M200 655 L217.5 655 L220 675 L215 690 L205 687.5Z"/>
<path fill="#FFFF00" d="M42 274 L52 292 L60 320 L66 316 L56 296 L50 280Z"/>
<path fill="#FFFF00" d="M410 490 L460 486 L476 474 L520 478 L552 488 L556 514 L504 514 L500 500 L480 506 L440 508 L410 514Z"/>
<path fill="#FFFF00" d="M504 592 L520 600 L536 600 L538 606 L520 608 L504 602Z"/>
<path fill="#FFFF00" d="M408 450 L454 450 L454 514 L408 514Z"/>
<path fill="#8B1A1A" d="M332 352 L348 344 L360 352 L356 368 L340 372 L332 364Z"/>
<path fill="#8B1A1A" d="M380 392 L404 392 L404 412 L380 412Z"/>
<path fill="#8B1A1A" d="M456 464 L468 460 L474 472 L460 486 L456 476Z"/>
<path fill="#B22A12" d="M404 316 L420 314 L432 326 L420 330 L408 324Z"/>
<path fill="#B22A12" d="M418 340 L428 342 L428 352 L420 352Z"/>
<path fill="#B22A12" d="M380 336 L388 336 L388 344 L380 344Z"/>
<path fill="#B22A12" d="M444 325 L454 325 L454 328 L444 328Z"/>
<path fill="#B22A12" d="M396 332 L404 334 L402 340 L396 338Z"/>
<path fill="#B22A12" d="M484 388 L496 387 L512 400 L518 412 L516 424 L508 438 L504 440 L504 428 L508 416 L500 404 L492 398Z"/>
<path fill="#B22A12" d="M392 420 L402 424 L400 440 L392 450 L384 440Z"/>
<path fill="#B22A12" d="M536 466 L546 468 L550 476 L540 474Z"/>
<path fill="#B22A12" d="M552 498 L556 500 L556 514 L552 512Z"/>
<path fill="url(#R65)" d="M46 278 L60 280 L86 282 L88 294 L80 304 L70 302 L60 294 L50 288Z"/>
<path fill="url(#R65)" d="M112 254 L176 254 L172 266 L160 272 L164 286 L148 292 L148 306 L140 324 L138 336 L128 348 L116 356 L110 344 L102 328 L114 320 L120 306 L124 290 L116 276 L114 264Z"/>
<path fill="#D9360E" d="M186 254 L194 254 L193 272 L188 270Z"/>
<path fill="#D9360E" d="M206 256 L212 256 L210 268 L206 266Z"/>
<path fill="#D9360E" d="M234 258 L239 258 L238 276 L233 274Z"/>
<path fill="#D9360E" d="M254 254 L266 254 L262 270 L256 266Z"/>
<path fill="#D9360E" d="M150 306 L160 308 L160 314 L152 313Z"/>
<path fill="url(#R50)" d="M116 368 L128 370 L124 392 L124 412 L120 432 L114 458 L108 458 L112 432 L118 412 L116 392Z"/>
<path fill="#D9360E" d="M226 370 L234 368 L248 378 L244 384 L232 380Z"/>
<path fill="#D9360E" d="M210 386 L218 385 L220 391 L212 392Z"/>
<path fill="url(#R65)" d="M268 364 L280 358 L296 352 L308 344 L314 334 L308 328 L320 330 L318 352 L314 364 L324 368 L332 362 L340 380 L352 400 L360 406 L372 398 L396 394 L404 398 L404 412 L384 406 L360 410 L356 420 L344 428 L332 420 L320 432 L308 432 L300 420 L288 416 L280 396 L272 384Z"/>
<path fill="url(#R50)" d="M276 256 L340 254 L348 272 L360 288 L368 308 L360 316 L348 306 L332 292 L320 272 L300 272 L284 280 L278 268Z"/>
<path fill="#D9360E" d="M364 324 L380 320 L376 336 L364 340Z"/>
<path fill="#D9360E" d="M408 316 L428 320 L432 328 L416 332 L408 324Z"/>
<path fill="url(#R65)" d="M388 368 L404 360 L420 368 L444 364 L444 384 L408 384 L396 392 L384 380Z"/>
<path fill="#D9360E" d="M286 316 L300 320 L312 332 L300 340 L288 332Z"/>
<path fill="url(#R65)" d="M380 364 L392 368 L410 368 L420 364 L440 372 L452 380 L404 383 L404 400 L380 400Z"/>
<path fill="url(#Y90)" d="M406 385 L448 385 L452 400 L460 416 L464 430 L456 432 L464 452 L468 466 L406 466Z"/>
<path fill="url(#Y90)" d="M406 436 L460 436 L468 460 L474 472 L460 486 L452 476 L440 474 L430 480 L416 490 L408 480Z"/>
<path fill="#D9360E" d="M502 498 L520 506 L524 496 L536 498 L538 517 L504 517Z"/>
<path fill="url(#R80)" d="M404 520 L450 520 L452 528 L430 532 L412 536 L408 552 L416 556 L404 560 L400 540Z"/>
<path fill="url(#R50)" d="M388 528 L400 526 L404 560 L400 580 L392 588 L390 568 L392 544Z"/>
<path fill="#D9360E" d="M384 592 L394 588 L396 600 L388 604Z"/>
<path fill="#D9360E" d="M382 608 L396 610 L394 620 L384 620Z"/>
<path fill="url(#R80)" d="M500 518 L552 518 L556 534 L556 552 L554 568 L560 580 L568 584 L568 596 L560 598 L554 592 L544 600 L538 596 L540 608 L536 616 L532 628 L536 649 L520 649 L516 638 L504 640 L484 638 L474 628 L480 616 L492 608 L500 602 L502 592 L492 584 L480 584 L484 578 L500 570 L492 560 L490 554 L500 544 L516 540 L520 532 L504 528Z"/>
<path fill="#D9360E" d="M546 608 L552 614 L560 628 L564 649 L556 649 L556 632Z"/>
<path fill="#D9360E" d="M556 610 L564 612 L568 624 L560 620Z"/>
<path fill="#D9360E" d="M545 665 L555 650 L565 655 L562.5 677.5 L552.5 695 L542.5 695Z"/>
<path fill="#D9360E" d="M546.2 775 L551.2 775 L551.2 790 L546.2 790Z"/>
<path fill="url(#R65)" d="M168 596 L178 600 L190 616 L194 630 L186 632 L178 618Z"/>
<path fill="url(#R65)" d="M192 636 L202 634 L214 652 L220 676 L210 680 L202 660Z"/>
<path fill="url(#R50)" d="M402 520 L414 518 L410 536 L406 552 L402 572 L394 588 L386 600 L378 616 L366 624 L354 632 L350 628 L362 616 L374 604 L386 584 L394 564 L398 544Z"/>
<path fill="#D9360E" d="M406 518 L454 516 L454 536 L422 536 L410 528Z"/>
<path fill="#D9360E" d="M408 450 L454 450 L454 476 L426 484 L410 480Z"/>
<path fill="#D9360E" d="M205 655 L215 655 L216.2 672.5 L207.5 672.5Z"/>
<path fill="url(#Y90)" d="M406 386 L444 386 L444 466 L406 466Z"/>
<path fill="url(#Y90)" d="M412 392 L430 390 L432 420 L440 440 L446 466 L412 466Z"/>
<path fill="url(#Y90)" d="M412 440 L436 440 L446 460 L440 470 L420 472Z"/>
<path fill="#0000CD" d="M77 289 L84 289 L84 293 L77 293Z"/>
<path fill="#0000CD" d="M140 266 L152 264 L156 276 L144 278Z"/>
<path fill="#0000CD" d="M119 320 L124 320 L124 325 L119 325Z"/>
<path fill="url(#B50)" d="M434 394 L446 392 L440 406 L432 408Z"/>
<path fill="url(#B50)" d="M430 414 L456 408 L456 428 L432 426Z"/>
<path fill="url(#B50)" d="M436 436 L444 436 L460 460 L452 462Z"/>
<path fill="url(#B50)" d="M504 402 L510 404 L510 412 L506 410Z"/>
<path fill="url(#B50)" d="M436 438 L446 438 L460 462 L456 464Z"/>
<path fill="url(#B50)" d="M412 524 L438 522 L438 528 L414 530Z"/>
<path fill="url(#B50)" d="M520 576 L532 568 L536 584 L528 596 L510 584Z"/>
<path fill="url(#B50)" d="M540 526 L548 528 L550 552 L542 548Z"/>
<path fill="url(#B50)" d="M488 620 L504 610 L508 630 L492 634Z"/>
<path fill="url(#B50)" d="M538 556 L550 558 L548 570 L538 568Z"/>
<path fill="url(#B50)" d="M516 630 L528 630 L528 642 L520 642Z"/>
<path fill="#0000CD" d="M198 640 L206 640 L210 656 L204 658Z"/>
<path fill="#0000CD" d="M412 523 L438 522 L438 529 L412 530Z"/>
<path fill="#90EE90" d="M126 488 L168 488 L168 508 L150 512 L134 504Z"/>
<path fill="#90EE90" d="M242.5 738.8 L255 740 L255 747.5 L245 747.5Z"/>
<path fill="#90EE90" d="M377.5 697.5 L395 697.5 L400 712.5 L410 725 L427.5 730 L442.5 740 L460 742.5 L460 767.5 L445 770 L422.5 760 L405 747.5 L390 735 L380 720Z"/>
<path fill="#60BF60" d="M210 494 L228 494 L230 520 L222 526 L220 508Z"/>
<path fill="#60BF60" d="M350 520 L370 516 L378 540 L366 560 L350 564 L342 544Z"/>
<path fill="#60BF60" d="M175 722.5 L195 721.2 L196.2 728.8 L177.5 730Z"/>
<path fill="#60BF60" d="M460 648.8 L615 648.8 L600 680 L575 695 L560 715 L555 740 L560 765 L562.5 795 L545 800 L535 780 L530 750 L525 725 L515 705 L510 775 L490 790 L475 795 L460 780Z"/>
<path fill="#309130" d="M345 702.5 L355 685 L370 670 L375 648.8 L460 648.8 L460 765 L445 770 L425 760 L407.5 747.5 L390 730 L375 715 L355 720Z"/>
<path fill="#006400" d="M347.5 700 L365 685 L375 675 L395 680 L390 695 L370 702.5 L360 717.5Z"/>
<path fill="#006400" d="M405 680 L425 670 L460 660 L460 685 L445 705 L455 725 L445 732.5 L425 715 L415 697.5Z"/>
<path fill="#FF00FF" d="M178 544 L190 526 L206 514 L210 526 L206 544 L210 560 L206 576 L198 584 L190 572 L182 564Z"/>
<path fill="#FF00FF" d="M210 604 L230 600 L246 612 L250 624 L266 638 L282 636 L298 628 L326 634 L326 686 L278 686 L250 652 L230 632 L218 620Z"/>
<path fill="#FF00FF" d="M328 636 L350 640 L370 636 L390 640 L402 620 L410 600 L422 604 L430 596 L442 600 L454 612 L454 649 L328 649Z"/>
<path fill="#FF00FF" d="M328 650 L454 650 L454 660 L410 660 L390 656 L370 660 L350 686 L328 686Z"/>
<path fill="#D800D8" d="M222 636 L238 648 L278 686 L226 686 L222 660Z"/>
<path fill="#B100B1" d="M575 755 L620 750 L620 800 L575 800Z"/>
<path fill="#FFA54F" d="M187.5 736.2 L210 737.5 L240 745 L235 760 L245 775 L252.5 790 L245 797.5 L240 785 L235 772.5 L225 760 L215 757.5 L210 750 L195 745Z"/>
<path fill="#FFA54F" d="M395 760 L407.5 765 L415 780 L432.5 785 L435 800 L425 815 L410 825 L400 820 L402.5 800 L400 780Z"/>
<path fill="#FFA54F" d="M382.5 810 L390 810 L390 822.5 L382.5 822.5Z"/>
<path fill="#FFA54F" d="M365 795 L370 790 L370 805 L365 807.5Z"/>
<path fill="#FFA54F" d="M580 817.5 L582.5 805 L600 800 L620 795 L620 817.5Z"/>
<path fill="#FFA54F" d="M490 815 L510 810 L525 800 L540 810 L525 820 L500 822.5Z"/>
<path fill="#FFA54F" d="M522.5 820 L540 820 L550 840 L570 860 L582.5 885 L600 900 L615 910 L600 912.5 L575 885 L550 850Z"/>
<path fill="#00FFFF" d="M210 746.2 L217.5 746.2 L225 756.2 L217.5 757.5Z"/>
<path fill="#FF00FF" d="M390 675 L400 670 L412.5 685 L422.5 700 L437.5 717.5 L445 730 L435 727.5 L420 717.5 L405 715 L395 700 L390 687.5Z"/>
<path fill="#FF00FF" d="M395 655 L412.5 655 L410 670 L400 670Z"/>
<path fill="#FF00FF" d="M505 710 L525 705 L530 735 L525 760 L510 775 L505 755 L510 735Z"/>
<path fill="#006400" d="M406 618 L418 608 L428 612 L422 628 L410 632Z"/>
<path fill="#309130" d="M430 600 L438 598 L442 616 L436 632 L428 620Z"/>
<path fill="#DDC800" d="M382.5 700 L392.5 702.5 L395 715 L405 727.5 L425 732.5 L440 742.5 L460 745 L460 765 L445 767.5 L425 757.5 L410 745 L395 732.5 L385 717.5Z"/>
<path fill="#DDC800" d="M460 697.5 L480 692.5 L500 705 L505 735 L500 760 L490 785 L475 790 L460 775Z"/>
<path fill="#EEE300" d="M370 655 L377.5 655 L380 675 L372.5 675Z"/>
<path fill="#EEE300" d="M500 648.8 L600 648.8 L590 680 L575 695 L560 697.5 L540 692.5 L525 705 L512.5 700 L505 675Z"/>
<path fill="#EEE300" d="M540 760 L560 760 L562.5 795 L545 800Z"/>
<path fill="#D9360E" d="M440 745 L455 745 L456.2 760 L445 757.5Z"/>
<path fill="#D9360E" d="M515 680 L530 677.5 L530 687.5 L517.5 690Z"/>
<path fill="#D9360E" d="M545 670 L555 655 L565 655 L562.5 675 L550 692.5 L542.5 687.5Z"/>
<path fill="#D9360E" d="M543.8 775 L550 775 L550 792.5 L544.5 792.5Z"/>
</g></g>
<path d="M859 888.8 L846.9 892.8 L837.5 895.5 L829.5 904.9 L818.7 915.7 L810.6 922.4 L797.2 927.8 L786.5 934.5 L774.4 945.3 L769 961.4 L764.9 974.8" fill="none" stroke="#00D8D8" stroke-width="9" stroke-linejoin="round" stroke-linecap="round"/>
<path d="M764.9 974.8 L765.6 991 L769 1004.4 L770.3 1015.2" fill="none" stroke="#00FFFF" stroke-width="7" stroke-linejoin="round" stroke-linecap="round"/>
<path d="M768.3 977.5 L770.3 991 L773 1004.4 L774.1 1013.8" fill="none" stroke="#8AD81F" stroke-width="4" stroke-linejoin="round" stroke-linecap="round"/>
<path d="M859 888.8 L872.5 887.5 L883.2 890.2 L891.3 894.2 L902 895.5 L908.8 892.8 L922.2 892.8 L927.6 898.2 L934.3 904.9 L942.4 910.3 L950.4 904.9 L957.2 910.3 L963.9 899.6 L976 896.9 L982.7 904.9 L989.4 907.6" fill="none" stroke="#00D8D8" stroke-width="9" stroke-linejoin="round" stroke-linecap="round"/>
<path d="M973.6 873 L993.8 866.3 L1005.2 869 L1026 871.7 L1032.7 869 L1047.5 867.6 L1063.7 866.3 L1073.1 871.7 L1079.8 875.7 L1083.8 883.8" fill="none" stroke="#00FFFF" stroke-width="8" stroke-linejoin="round" stroke-linecap="round"/>
<path d="M1083.8 883.8 L1082.5 889.1 L1086.5 893.2 L1093.2 889.1 L1101.3 886.5 L1114.7 881.1 L1121.5 877.7 L1128.2 883.8 L1138.9 897.2 L1149.7 909.3" fill="none" stroke="#00D8D8" stroke-width="8" stroke-linejoin="round" stroke-linecap="round"/>
<path d="M940 910.6 L948.1 905.3 L956.1 910.6 L964.2 899.9 L973.6 905.3 L980.3 916 L988.4 910.6" fill="none" stroke="#00D8D8" stroke-width="8" stroke-linejoin="round" stroke-linecap="round"/>
<path d="M1206.9 918.9 L1211.8 930.7 L1217.7 950.4 L1225.6 974.1 L1230 991.8" fill="none" stroke="#ADFF2F" stroke-width="6" stroke-linejoin="round" stroke-linecap="round"/>
<path d="M1230 991.8 L1228.6 1013.5 L1224.6 1029.3 L1219.7 1040.1 L1209.9 1042.1" fill="none" stroke="#8AD81F" stroke-width="5" stroke-linejoin="round" stroke-linecap="round"/>
<path d="M1170.4 987.9 L1178.3 997.7 L1181.3 1011.6 L1188.2 1018.5 L1196.1 1030.3 L1198 1039.2" fill="none" stroke="#ADFF2F" stroke-width="5" stroke-linejoin="round" stroke-linecap="round"/>
<path d="M1152.7 946.5 L1156.6 956.3 L1158.6 966.2" fill="none" stroke="#ADFF2F" stroke-width="5" stroke-linejoin="round" stroke-linecap="round"/>
<path d="M1102.9 354.8 L1094.3 350 L1084.8 348.1 L1080 350 L1070.5 352.9 L1062.9 352.9 L1061 356.7 L1055.2 359.5 L1052.4 364.3 L1048.6 361.4 L1044.8 355.7 L1041.9 355.7 L1039 361.4 L1035.2 369 L1031.4 376.7 L1027.6 382.4 L1023.8 388.1 L1018.1 393.8 L1015.2 399.5 L1020 398.6 L1025.7 391.9 L1033.3 382.4 L1041 374.8 L1044.8 376.7 L1041 384.3 L1035.2 391 L1032.4 397.6 L1030.5 405.2 L1029.5 416 L1020.3 441.7 L1021.2 457.4 L1026.2 477.1 L1030.1 492.9 L1038 495.9 L1049.8 490.9 L1059.7 479.1 L1065.6 463.3 L1063.6 447.6 L1055.7 427.9 L1056.2 416 L1059 410 L1061.9 400.5 L1062.9 392.9 L1067.6 383.3 L1075.2 380.5 L1080 376.7 L1079 386.2 L1081.9 392.9 L1084.8 386.2 L1084.8 378.6 L1087.6 372.9 L1098.1 371 L1093.3 365.2 L1096.2 359.5 L1102.9 357.6Z" fill="#fff"/>
<path fill="#60BF60" d="M1077.1 356.7 L1083.8 355.7 L1085.7 361.4 L1081.9 367.1 L1077.1 365.2Z"/>
<path fill="#309130" d="M1064.8 380.5 L1069.5 378.6 L1071.4 384.3 L1065.7 386.2Z"/>
<path fill="#90EE90" d="M1072.4 368.1 L1076.2 368.1 L1075.2 371.9 L1072.9 371.9Z"/>
<g fill="none" stroke="#333" stroke-width="3.3" stroke-linejoin="round" stroke-linecap="round">
<path d="M95 252 L826.2 251.2 L826.2 239.5 L836.2 239.5 L840 260 L862.5 263.8 L867.5 267.5 L892.5 265 L900 271.2 L905 275 L920 278.8 L930 282.5 L940 276.2 L945 280 L977.5 283.8 L935 302.5 L902.5 326.2 L915 327.5 L940 322.5 L945 330 L955 331.2 L970 325 L990 315 L1007.5 306.2 L1023.8 302.5 L1010 315 L1004.3 326.2 L1012.4 319 L1024.8 322.4 L1031.4 331 L1036.2 333.3 L1042.9 333.3 L1046.7 336.7 L1052.4 337.6 L1056.2 334.8 L1062.9 329 L1068.6 327.6 L1082.9 327.6 L1089.5 325.2 L1098.1 325.2 L1095.7 333.8 L1102.9 335.7 L1115.2 336.2 L1117.1 341.4 L1120 346.7 L1125.7 351.4 L1103.8 351.9 L1102.9 356.7 L1113.3 361.4 L1120 366.2 L1134.3 371 L1139 376.7 L1141.9 382.4 L1137.1 384.3 L1141 393.8 L1140 405.2 L1134.3 411 L1132.4 416 L1126.2 417.5 L1125 427.5 L1130 431.2 L1140 422.5 L1150 415 L1157.5 417.5 L1161.2 430 L1165 450 L1163.8 460 L1157.5 463.8 L1152.5 470 L1145 482.5 L1136.2 492.5 L1150 501.2 L1160 503.8 L1175 501.2 L1192.5 492.5 L1205 486.2 L1216.2 483.8 L1233.8 476.2 L1245 467.5 L1255 458.8 L1256.2 450 L1253.8 442.5 L1260 438.8 L1282.5 437.5 L1293.8 443.8 L1310 441.2 L1322.5 433.8 L1330 427.5 L1328.8 417.5 L1325 413.8 L1338.8 402.5 L1352.5 388.8 L1365 383.8 L1452.5 383 L1457.5 375 L1465 373.8 L1480 360 L1485 345 L1492.5 325 L1515 302.5 L1520 303.8 L1522.5 310 L1540 305 L1553.8 315 L1555 360 L1562.5 365 L1563.8 375 L1572.5 382.5 L1572.5 390 L1560 396.2 L1545 402.5 L1530 407.5 L1525 400 L1520 410 L1510 420 L1495 425 L1485 432.5 L1475 442.5 L1471.2 452.5 L1472.9 449.5 L1471.9 457.1 L1475.7 463.8 L1468.1 470.5 L1467.1 475.2 L1472.9 478.1 L1477.6 484.8 L1481.4 490.5 L1490 491.9 L1493.8 491.4 L1494.3 486.7 L1491 482.4 L1487.1 481 L1491.9 481 L1496.2 486.7 L1496.2 497.1 L1482.4 494.8 L1476.7 497.1 L1474.8 501.9 L1471.9 505.7 L1465.2 499 L1457.6 496.2 L1454.8 501.9 L1448.1 503.8 L1434.8 505.7 L1418.6 506.7 L1403.3 508.6 L1395.7 513.3 L1406.2 514.3 L1425.2 510.5 L1435.7 511 L1444.3 515.2 L1425.2 523.8 L1409 530.5 L1396.7 531.9 L1387.1 533.8 L1383.3 535.2 L1389 536.2 L1389.5 538.1 L1388.6 547.6 L1386.7 557.1 L1381.9 566.7 L1374.3 575.2 L1367.6 581.9 L1364.8 585.7 L1360.5 590.5 L1360 599 L1360 606 L1361.2 609 L1350 624 L1342.5 639 L1338.8 651.5 L1340 659 L1340 665.2 L1345 684 L1348.8 694 L1350 699 L1345 709 L1330 719 L1322.5 726.5 L1307.5 729 L1295 734 L1287.5 746.5 L1275 752.8 L1267.5 752.8 L1260 759 L1252.5 769 L1245 779 L1240 788 L1237.5 788 L1222.5 795.5 L1210 805.5 L1205 815.5 L1197.5 828 L1190 843 L1188 858 L1190 859.2 L1193.8 873 L1200 898 L1208.8 923 L1217.5 950.5 L1225 975.5 L1228.8 995.5 L1227.5 1013 L1225 1028 L1217.5 1041.8 L1205 1044.2 L1197.5 1038 L1190 1023 L1182.5 1015.5 L1177.5 1000.5 L1170 988 L1165 980.5 L1160 968 L1155 953 L1155 943 L1157.5 930.5 L1156.2 918 L1147.5 910.5 L1137.5 895.5 L1130 885.5 L1120 878 L1112.5 884.2 L1095 890.5 L1085 890.5 L1077.5 875.5 L1070 868 L1070 865.5 L1047.5 867.6 L1039.5 866.3 L1032.7 869 L1026 871.7 L1020.6 870.3 L1019.3 862.3 L1016.6 855.5 L1013.9 858.2 L1012.6 870.3 L1005.2 869 L993.8 866.3 L980.3 870.3 L973.6 873 L975 878 L975 888 L982.5 898 L987.5 910.5 L980 915.5 L970 903 L957.5 908 L945 910.5 L932.5 905.5 L922.5 895.5 L912.5 888 L905 894.2 L895 894.2 L877.5 888 L859 888.8 L846.9 892.8 L837.5 895.5 L838.9 887.5 L830.8 891.5 L834.8 900.9 L829.5 904.9 L825.4 910.3 L818.7 915.7 L810.6 922.4 L802.6 923.8 L797.2 927.8 L789.1 925.1 L786.5 934.5 L781.1 942.6 L774.4 945.3 L770.3 950.6 L763.6 952 L769 961.4 L767.6 969.5 L756.9 966.8 L758.2 972.2 L763.6 976.2 L764.3 977.5 L765.6 991 L769 1004.4 L773 1015.2 L770.3 1016.5 L762.3 1017.8 L750.2 1012.5 L740.8 1009.8 L725 1003 L720 993 L712.5 978 L711.2 963 L700 950.5 L690 938 L682.5 920.5 L675 905.5 L662.5 891.8 L650 888 L635 886.8 L625 895.5 L620 908 L612.5 916.8 L602.5 910.5 L587.5 900.5 L575 885.5 L570 868 L557.5 853 L545 841.8 L535 830.5 L522.5 819.2 L522.5 821.8 L482.5 823 L482.5 838 L402.5 836.8 L305 798 L312.5 790.5 L243.8 798 L241.2 788 L237.5 776.5 L227.5 761.5 L212.5 756.5 L207.5 749 L195 744 L182.5 736.5 L160 735.2 L152.5 731.5 L152.5 719 L145 706.5 L137.5 694 L127.5 681.5 L117.5 669 L120 659 L112.5 651.5 L105 634 L102.5 619 L90 614 L82.5 599 L70 584 L66.2 569 L57.5 551.5 L51.2 534 L57.5 509 L52.5 482.5 L51.2 467.5 L47.5 455 L52.5 437.5 L57.5 417.5 L60 392.5 L61.2 370 L62.5 347.5 L63.3 346.5 L61.2 340 L61.2 331.4 L64.4 327.1 L62.3 323.9 L65.5 319.6 L59 317.4 L55.8 308.8 L52.6 300.2 L48.3 290.5 L44 283 L41.8 272.3 L45.1 271.2 L51.5 273.3 L60.1 276.6 L70.9 278.7 L81.6 279.8 L88.1 283 L93.4 286.2 L92.4 291.6 L88.1 297 L84.8 303.4 L85.9 307.7 L87 314.2 L92.4 317.4 L101 314.2 L107.4 308.8 L105.3 300.2 L107.4 291.6 L109.6 283 L105.3 272.3 L104.2 261.5 L99.9 259.4 L94.5 258.3 L94.5 250.8Z"/>
<path d="M1102.9 354.8 L1094.3 350 L1084.8 348.1 L1080 350 L1070.5 352.9 L1062.9 352.9 L1061 356.7 L1055.2 359.5 L1052.4 364.3 L1048.6 361.4 L1044.8 355.7 L1041.9 355.7 L1039 361.4 L1035.2 369 L1031.4 376.7 L1027.6 382.4 L1023.8 388.1 L1018.1 393.8 L1015.2 399.5 L1020 398.6 L1025.7 391.9 L1033.3 382.4 L1041 374.8 L1044.8 376.7 L1041 384.3 L1035.2 391 L1032.4 397.6 L1030.5 405.2 L1029.5 416 L1020.3 441.7 L1021.2 457.4 L1026.2 477.1 L1030.1 492.9 L1038 495.9 L1049.8 490.9 L1059.7 479.1 L1065.6 463.3 L1063.6 447.6 L1055.7 427.9 L1056.2 416 L1059 410 L1061.9 400.5 L1062.9 392.9 L1067.6 383.3 L1075.2 380.5 L1080 376.7 L1079 386.2 L1081.9 392.9 L1084.8 386.2 L1084.8 378.6 L1087.6 372.9 L1098.1 371 L1093.3 365.2 L1096.2 359.5 L1102.9 357.6Z"/>
<path d="M63.3 346.5 L67.6 342.2 L73 341.1 L78.4 343.2 L83.8 346.5 L90.2 348.6 L93.4 354 L94.5 360 L97.5 362.5 L107.5 366.2 L125 362.5 L137.5 362.5 L155 360 L175 355 L195 351.2 L220 350 L250 350.5 M246.2 252 L247.5 340 L250 350.5 M250 350.5 L260 360 L261.2 370 L255 382.5 L245 395 L241.2 405 L248.8 411.2 L247.5 420 L247.5 482.5 M272.5 252 L272.5 287.5 L280 298.8 L292.5 307.5 L305 322.5 L317.5 330 L316.2 347.5 L313.8 363.8 L322.5 366.2 L330 362.5 L337.5 375 L347.5 390 L357.5 401.2 L375 400 L395 397.5 L405 400 M52.5 482.5 L405 484 M405 384.5 L405 517.5 M405 384.5 L590.7 383 M590.7 251 L590.7 517.5 M405 517.5 L644.5 517.5 M168.75 483 L168.75 582.75 L311.25 714 M326.25 484 L326.25 650.25 L325 681.5 L310 680.2 L307.5 689 L311.2 714 M311.2 714 L316.2 729 L323.8 739 L315 749 L312.5 759 L307.5 771.5 L311.2 788 L312.5 790.5 M326.25 650.25 L841 650.25 M458.75 517.5 L458.75 837.25 M644.5 517.5 L644.5 650.25 M644.5 549 L820 549 M618.25 650.25 L618.25 815 M522.5 820 L527 815 L618.25 815 M618.25 666.5 L698 666.5 L698 729 M698 729 L705 735.2 L717.5 736.5 L727.5 744 L742.5 746.5 L755 754 L765 752.8 L772.5 757.8 L780 751.5 L795 759 L815 750.2 L827.5 751.5 L837.5 759 L847.5 762.8 L856.2 764 L856.2 781.5 L856.2 788 L856.2 813 L862.5 825.5 L868.8 840.5 L870 853 L865 868 L863.8 883 L861.2 889.2 M856.2 781.5 L931.2 781.5 M840 579 L840.8 665.2 L846.2 709 L846.2 761.5 M806.2 509 L807.5 524 L813.8 531.5 L820 546.5 L832.5 556.5 L828.8 565.2 L840 579 M813.8 529.5 L920 529.5 L927.5 534 M841.2 666 L958.8 666 L962.5 671.5 L955 681.5 L970 681.5 M902.5 326.2 L902.5 347.5 L887.5 360 L891.2 377.5 L888.8 390 L900 400 L915 407.5 L927.5 420 L931.2 433.8 L935 450 L945 465 L955 476.2 L958.8 485 L951.2 497.5 L935 509 L938.8 519 L931.2 529 L926.2 536.5 L925 551.5 L935 566.5 L945 581.5 L957.5 589 L955 604 L967.5 619 L977.5 634 L981.2 645.2 L985 649 L981.2 659 L975 669 L970 684 L965 696.5 L960 709 L952.5 721.5 L942.5 739 L935 754 L931.2 766.5 L933.8 781.5 L932.5 788 L938.8 803 L931.2 815.5 L925 828 L920 848 L970 848.8 L973.8 863 L975 873 M772.5 251.2 L776.2 280 L781.2 305 L786.2 340 L788.8 353 L782.5 362.5 L793.8 372.5 L793.2 433.8 L788.8 437.5 L791.2 450 L786.2 461.2 M590.7 353 L788.8 353 M793.2 433.8 L931.2 433.8 M592.5 450.5 L737.5 450.5 L752.5 458 L770 456.2 L786.2 462.5 L795 470 L800 482.5 L807.5 509 M980 344.3 L991.4 348.1 L999 351 L1011.4 353.8 L1014.3 356.7 L1021 359.5 L1020 371 L1023.8 372.9 L1022.9 378.6 L1027.6 382.4 M955 331.2 L980 344.3 M947.5 466.2 L1021.2 466.2 M1028.75 493 L1030 591.5 L1020 609 L1015 619 L1012.5 626.5 M1041 492 L1136.2 492.5 M1101.25 492 L1101.2 580.2 M985 649 L990 644 L1002.5 645.2 L1007.5 634 L1012.5 626.5 L1020 620.2 L1032.5 617.8 L1042.5 621.5 L1055 616.5 L1062.5 610.2 L1070 616.5 L1077.5 601.5 L1087.5 594 L1101.2 581.5 L1111.2 582.8 L1122.5 590.2 L1137.5 595.2 L1150 591.5 L1158.8 599 L1167.5 595.2 L1172.5 586.5 L1182.5 581.5 L1192.5 571.5 L1202.5 564 L1208.8 551.5 L1211.2 534 L1215 530.2 L1215.8 509 M1216.2 483.8 L1215.8 559 M1215.8 559 L1340 559.5 M1242.5 559 L1242.5 572.8 L1257.5 565.2 L1270 561.5 L1277.5 562.8 L1287.5 574 L1275 581.5 L1267.5 589 L1255 595.2 L1250 602.8 L1240 601.5 L1232.5 609 L1225 621.5 L1217.5 631.5 L1202.5 639 L1187.5 641.5 L1175 634 M1158.8 599 L1162.5 614 L1170 626.5 L1175 634 L1157.5 649 L1142.5 657.8 L1130 661.5 M980 665.2 L1016.2 665.2 L1016.2 660.2 L1070 660.2 L1130 662 L1185 664 L1338.8 665.2 M1185 664 L1180 671.5 L1167.5 679 L1152.5 689 L1137.5 696.5 L1122.5 704 L1115 715.2 M957.5 715.8 L1142.5 715.8 L1141.2 726.5 M1141.2 726.5 L1152.5 717.8 L1167.5 711.5 L1200 711 L1207.5 721.5 L1237.5 722.8 L1267.5 752.8 M1141.2 726.5 L1152.5 734 L1160 749 L1170 764 L1180 774 L1190 788 L1197.5 805.5 L1205 815.5 M1080 716.5 L1092.5 788 L1097.5 808 L1092.5 833 L1091.9 840.8 L1094.6 848.5 M1028.8 849.2 L1030 863 M1028.8 849.2 L1094.6 848.5 L1096 855.5 L1099.9 858.2 L1168.5 862.3 L1169.8 869 L1175.2 869 L1175.2 855.5 L1179 854 L1188.7 858.2 M1013.8 715.8 L1007.5 788 L1005 868 M1233.8 476.2 L1233.8 483.8 M1233.8 483.8 L1352.5 483.8 L1352.9 482.9 L1358.6 490.5 L1360.5 497.1 L1367.1 503.3 L1361 511.4 L1359 517.1 L1356.2 523.8 L1357.1 527.6 L1361 534.3 L1365.7 538.1 L1369.5 544.8 L1364.8 546.7 L1359 550.5 L1355.2 554.3 L1348.6 555.2 L1342.9 556.2 L1340 559.5 M1365.7 504.8 L1387.6 517.1 M1340.5 559.5 L1341.9 601 L1360 601 M1403.8 383.8 L1405 405 L1402.5 427.5 L1407.5 437.5 L1407.5 458.8 L1401.4 481 L1398.6 506.7 L1395.7 513.3 M1452.5 383 L1450 400 L1440 407.5 L1435 425 L1430 442.5 L1425 458.8 M1407.1 459.5 L1460.5 460.5 L1463.3 457.1 L1471 455.2 M1402.4 481.9 L1457.6 482.4 L1461.4 489.5 L1463.3 496.2 M1446.7 482.4 L1447.1 503.8 M1465 375 L1467.5 445 L1471.2 452.5 M1364.8 585.7 L1361.9 584.8 L1363.8 579 L1357.1 576.2 L1351.4 573.3 L1347.6 566.7 L1345.7 561.9 L1348.6 556.2 M1342.9 561 L1343.8 566.7 L1348.6 574.3 L1351.4 581 L1355.2 587.6 L1360 589.5 M1287.6 566.7 L1292.4 575.2 L1300 580 L1309.5 585.7 L1304.8 594.3 L1300 601 L1307.6 604.8"/>
<path d="M88.1 265.8 L92.4 263.7 L94.5 268" stroke-width="7"/>
<path d="M99.9 264.7 L102 272.3 L105.3 280.9 L104.2 287.3 L99.9 291.6 L95.6 298.1 L92.4 304.5 L91.3 311 L96.7 313.1 L103.1 308.8 L104.2 302.4" stroke-width="8"/>
<path d="M90.2 300.2 L87 305.6 L90.2 313.1" stroke-width="5"/>
<path d="M61.2 319.6 L64.4 321.7" stroke-width="5"/>
<path d="M62.3 329.2 L65.5 331.4" stroke-width="5"/>
<path d="M1336.3 562.5 L1329.1 569.7 L1321.9 576.9 L1321.9 587.6 L1323.7 596.6 L1325.5 605.5 L1327.3 616.3 L1326.4 627 L1325.5 637.8 L1323.7 646.7" stroke-width="6"/>
<path d="M1330.9 569.7 L1329.1 582.2 L1332.7 594.8 L1330.9 603.7 L1336.3 610.9 L1339.9 619.9 L1336.3 630.6 L1336.3 643.1" stroke-width="5.5"/>
<path d="M1302.2 603.7 L1309.4 603.7 L1316.6 610.9 L1323.7 616.3" stroke-width="6"/>
<path d="M1309.4 616.3 L1316.6 623.4 L1323.7 628.8" stroke-width="6"/>
<path d="M1311.2 632.4 L1318.4 637.8 L1325.5 639.6" stroke-width="6"/>
<path d="M1307.6 641.3 L1316.6 646.7 L1323.7 650.3 L1332.7 652.1" stroke-width="6.5"/>
<path d="M1314.8 673.6 L1316.6 682.5 L1323.7 684.3 L1332.7 679 L1329.1 673.6" stroke-width="6.5"/>
<path d="M1336.3 682.5 L1334.5 691.5 L1329.1 698.7 L1323.7 702.2 L1316.6 698.7 L1309.4 700.5" stroke-width="6.5"/>
<path d="M1323.7 704 L1321.9 711.2 L1314.8 714.8 L1307.6 713" stroke-width="6.5"/>
<path d="M1325.5 716.6 L1318.4 722" stroke-width="6"/>
<path d="M1296.9 725.5 L1304 722" stroke-width="6"/>
<path d="M1155.1 948.3 L1160.4 953.7 L1161.8 957.7" stroke-width="9"/>
<path d="M1169 983 L1175 990" stroke-width="8"/>
<path d="M1199 1037 L1203 1040" stroke-width="9"/>
<path d="M953.4 870.3 L961.5 869 L970.9 875.7 L961.5 879.7 L952.1 875.7 L953.4 870.3" stroke-width="5"/>
<path d="M1034.1 863.6 L1042.2 863.6" stroke-width="5"/>
<path d="M1056.9 865.6 L1065 867.6" stroke-width="5"/>
<path d="M1074.4 871.7 L1078.4 874.4" stroke-width="5"/>
<path d="M1396.7 516.2 L1411 512.9 L1425.2 511 L1435.7 511.4" stroke-width="5"/>
<path d="M1425.2 515.2 L1434.8 513.3 L1443.3 515.2" stroke-width="6"/>
<path d="M1389 531.4 L1409 528.6 L1425.2 522.9 L1442.4 516.2" stroke-width="5"/>
<path d="M1471.9 505.7 L1476.7 503.8 L1481.4 504.8" stroke-width="6"/>
<path d="M1488.1 507.6 L1492.9 505.7 L1494.8 508.6" stroke-width="6"/>
<path d="M1455.7 497.1 L1459.5 493.3 L1463.3 497.1" stroke-width="5"/>
</g></svg>
</body></html>
